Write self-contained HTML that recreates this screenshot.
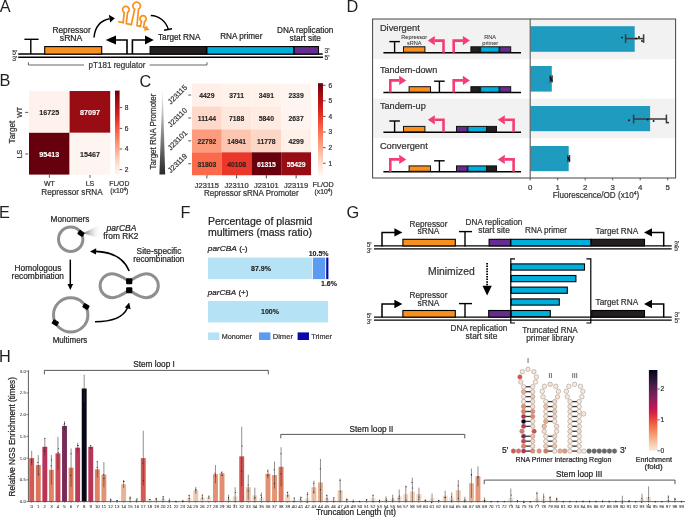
<!DOCTYPE html>
<html><head><meta charset="utf-8"><style>
html,body{margin:0;padding:0;background:#fff;}
svg{display:block;font-family:"Liberation Sans",sans-serif;will-change:transform;-webkit-font-smoothing:antialiased;}
text{stroke:currentColor;stroke-width:0.22px;}
</style></head><body>
<svg width="685" height="517" viewBox="0 0 685 517">
<rect x="0" y="0" width="685" height="517" fill="#fff"/>
<text x="-0.30" y="11.90" font-size="16.3" text-anchor="start" font-weight="normal" font-style="normal" fill="#231F20" color="#231F20" style="stroke-width:0">A</text>
<text x="346.60" y="12.10" font-size="16.3" text-anchor="start" font-weight="normal" font-style="normal" fill="#231F20" color="#231F20" style="stroke-width:0">D</text>
<text x="-0.50" y="85.90" font-size="16.3" text-anchor="start" font-weight="normal" font-style="normal" fill="#231F20" color="#231F20" style="stroke-width:0">B</text>
<text x="139.60" y="86.80" font-size="16.3" text-anchor="start" font-weight="normal" font-style="normal" fill="#231F20" color="#231F20" style="stroke-width:0">C</text>
<text x="-0.90" y="218.10" font-size="16.3" text-anchor="start" font-weight="normal" font-style="normal" fill="#231F20" color="#231F20" style="stroke-width:0">E</text>
<text x="180.60" y="217.70" font-size="16.3" text-anchor="start" font-weight="normal" font-style="normal" fill="#231F20" color="#231F20" style="stroke-width:0">F</text>
<text x="346.60" y="218.00" font-size="16.3" text-anchor="start" font-weight="normal" font-style="normal" fill="#231F20" color="#231F20" style="stroke-width:0">G</text>
<text x="-0.90" y="362.20" font-size="16.3" text-anchor="start" font-weight="normal" font-style="normal" fill="#231F20" color="#231F20" style="stroke-width:0">H</text>
<line x1="18.20" y1="54.00" x2="322.70" y2="54.00" stroke="#000" stroke-width="1.4" />
<line x1="18.20" y1="57.20" x2="323.00" y2="57.20" stroke="#000" stroke-width="1.5" />
<text x="17.40" y="54.60" font-size="6.9" text-anchor="end" font-weight="normal" font-style="normal" fill="#444" color="#444" >5'</text>
<text x="17.40" y="60.90" font-size="6.9" text-anchor="end" font-weight="normal" font-style="normal" fill="#444" color="#444" >3'</text>
<text x="324.60" y="52.90" font-size="6.6" text-anchor="start" font-weight="normal" font-style="normal" fill="#444" color="#444" >3'</text>
<text x="324.60" y="59.60" font-size="6.6" text-anchor="start" font-weight="normal" font-style="normal" fill="#444" color="#444" >5'</text>
<line x1="24.40" y1="39.30" x2="38.60" y2="39.30" stroke="#000" stroke-width="1.4" />
<line x1="30.80" y1="39.30" x2="30.80" y2="54.00" stroke="#000" stroke-width="1.4" />
<rect x="44.70" y="46.60" width="57.00" height="7.50" fill="#F7901E" stroke="#000" stroke-width="1.1" />
<rect x="150.10" y="46.60" width="56.40" height="7.50" fill="#231F20" stroke="#000" stroke-width="1.1" />
<rect x="206.90" y="46.60" width="86.90" height="7.50" fill="#00AEDB" stroke="#000" stroke-width="1.1" />
<rect x="294.20" y="46.60" width="24.30" height="7.50" fill="#662D91" stroke="#000" stroke-width="1.1" />
<path d="M127,54 L127,40 L115.5,40" stroke="#000" stroke-width="1.6" fill="none" />
<polygon points="105.60,40.00 116.00,35.60 116.00,44.40" fill="#000"/>
<path d="M132.4,54 L132.4,40 L145.5,40" stroke="#000" stroke-width="1.6" fill="none" />
<polygon points="153.80,40.00 145.00,35.60 145.00,44.40" fill="#000"/>
<text x="71.60" y="33.20" font-size="8.6" text-anchor="middle" font-weight="normal" font-style="normal" fill="#231F20" color="#231F20"  textLength="38.37" lengthAdjust="spacingAndGlyphs">Repressor</text>
<text x="71.10" y="41.20" font-size="8.6" text-anchor="middle" font-weight="normal" font-style="normal" fill="#231F20" color="#231F20"  textLength="22.57" lengthAdjust="spacingAndGlyphs">sRNA</text>
<text x="179.20" y="40.00" font-size="8.6" text-anchor="middle" font-weight="normal" font-style="normal" fill="#231F20" color="#231F20"  textLength="42.37" lengthAdjust="spacingAndGlyphs">Target RNA</text>
<text x="241.30" y="39.20" font-size="8.6" text-anchor="middle" font-weight="normal" font-style="normal" fill="#231F20" color="#231F20"  textLength="42.17" lengthAdjust="spacingAndGlyphs">RNA primer</text>
<text x="305.20" y="33.00" font-size="8.6" text-anchor="middle" font-weight="normal" font-style="normal" fill="#231F20" color="#231F20"  textLength="56.37" lengthAdjust="spacingAndGlyphs">DNA replication</text>
<text x="305.30" y="40.60" font-size="8.6" text-anchor="middle" font-weight="normal" font-style="normal" fill="#231F20" color="#231F20"  textLength="31.37" lengthAdjust="spacingAndGlyphs">start site</text>
<path d="M28.4,62.2 L28.4,65 L84,65" stroke="#555" stroke-width="0.9" fill="none" />
<path d="M149.5,65 L207,65 L207,62.2" stroke="#555" stroke-width="0.9" fill="none" />
<text x="117.00" y="67.60" font-size="8.6" text-anchor="middle" font-weight="normal" font-style="normal" fill="#333" color="#333"  textLength="56.77" lengthAdjust="spacingAndGlyphs">pT181 regulator</text>
<path d="M94,37.5 C95,27 101,20.5 109.5,18.8" stroke="#000" stroke-width="1.5" fill="none" />
<polygon points="114.80,18.20 108.80,14.80 110.20,22.60" fill="#000"/>
<path d="M150.8,15.6 C159,16 166,21 168.2,29.2" stroke="#000" stroke-width="1.5" fill="none" />
<line x1="164.00" y1="30.20" x2="172.00" y2="28.80" stroke="#000" stroke-width="1.5" />
<path d="M118.2,21.6 L123.1,22.7 L124.25,12.46 A3.3,3.3 0 1 1 127.55,12.46 L126.3,23.5 L131.3,24.7 L134.70,9.29 A3.8,3.8 0 1 1 138.50,9.29 L137.0,25.6 L140.3,26.4 L141.55,21.38 A3.1,3.1 0 1 1 144.65,21.38 L143.5,27.3 L146.0,28.3" stroke="#F7901E" stroke-width="1.7" fill="none" stroke-linejoin="miter"/>
<polygon points="149.60,30.00 143.80,30.80 145.90,25.60" fill="#F7901E"/>
<rect x="29.00" y="91.00" width="40.60" height="41.80" fill="#fff2ec" />
<text x="49.30" y="115.10" font-size="7.2" text-anchor="middle" font-weight="bold" font-style="normal" fill="#262626" color="#262626"  style="stroke-width:0.12px">16725</text>
<rect x="69.60" y="91.00" width="40.60" height="41.80" fill="#9a0c14" />
<text x="89.90" y="115.10" font-size="7.2" text-anchor="middle" font-weight="bold" font-style="normal" fill="#ffffff" color="#ffffff"  style="stroke-width:0.12px">87097</text>
<rect x="29.00" y="132.80" width="40.60" height="41.80" fill="#67000d" />
<text x="49.30" y="156.90" font-size="7.2" text-anchor="middle" font-weight="bold" font-style="normal" fill="#ffffff" color="#ffffff"  style="stroke-width:0.12px">95413</text>
<rect x="69.60" y="132.80" width="40.60" height="41.80" fill="#fff5f0" />
<text x="89.90" y="156.90" font-size="7.2" text-anchor="middle" font-weight="bold" font-style="normal" fill="#262626" color="#262626"  style="stroke-width:0.12px">15467</text>
<defs><linearGradient id="gB" x1="0" y1="1" x2="0" y2="0"><stop offset="0.00" stop-color="#fff5f0"/><stop offset="0.10" stop-color="#fee5d8"/><stop offset="0.20" stop-color="#fdcab5"/><stop offset="0.30" stop-color="#fcab8f"/><stop offset="0.40" stop-color="#fc8a6a"/><stop offset="0.50" stop-color="#fb694a"/><stop offset="0.60" stop-color="#f14432"/><stop offset="0.70" stop-color="#d92523"/><stop offset="0.80" stop-color="#bc141a"/><stop offset="0.90" stop-color="#980c13"/><stop offset="1.00" stop-color="#67000d"/></linearGradient></defs>
<rect x="115.00" y="90.60" width="4.60" height="83.80" fill="url(#gB)" />
<line x1="119.60" y1="107.60" x2="122.20" y2="107.60" stroke="#333" stroke-width="0.8" />
<text x="124.80" y="110.00" font-size="6.6" text-anchor="start" font-weight="normal" font-style="normal" fill="#333" color="#333" >8</text>
<line x1="119.60" y1="128.40" x2="122.20" y2="128.40" stroke="#333" stroke-width="0.8" />
<text x="124.80" y="130.80" font-size="6.6" text-anchor="start" font-weight="normal" font-style="normal" fill="#333" color="#333" >6</text>
<line x1="119.60" y1="149.00" x2="122.20" y2="149.00" stroke="#333" stroke-width="0.8" />
<text x="124.80" y="151.40" font-size="6.6" text-anchor="start" font-weight="normal" font-style="normal" fill="#333" color="#333" >4</text>
<line x1="119.60" y1="169.60" x2="122.20" y2="169.60" stroke="#333" stroke-width="0.8" />
<text x="124.80" y="172.00" font-size="6.6" text-anchor="start" font-weight="normal" font-style="normal" fill="#333" color="#333" >2</text>
<line x1="25.20" y1="112.40" x2="28.20" y2="112.40" stroke="#333" stroke-width="0.8" />
<text x="22.00" y="112.40" font-size="7" text-anchor="middle" font-weight="normal" font-style="normal" fill="#333" color="#333" transform="rotate(-90 22 112.4)">WT</text>
<line x1="25.20" y1="154.00" x2="28.20" y2="154.00" stroke="#333" stroke-width="0.8" />
<text x="22.00" y="154.00" font-size="7" text-anchor="middle" font-weight="normal" font-style="normal" fill="#333" color="#333" transform="rotate(-90 22 154.0)">LS</text>
<text x="15.00" y="132.00" font-size="8.3" text-anchor="middle" font-weight="normal" font-style="normal" fill="#333" color="#333" transform="rotate(-90 15 132)" textLength="22.75" lengthAdjust="spacingAndGlyphs">Target</text>
<line x1="49.40" y1="175.00" x2="49.40" y2="177.80" stroke="#333" stroke-width="0.8" />
<text x="49.40" y="185.60" font-size="7" text-anchor="middle" font-weight="normal" font-style="normal" fill="#333" color="#333" >WT</text>
<line x1="90.00" y1="175.00" x2="90.00" y2="177.80" stroke="#333" stroke-width="0.8" />
<text x="90.00" y="185.60" font-size="7" text-anchor="middle" font-weight="normal" font-style="normal" fill="#333" color="#333" >LS</text>
<text x="72.00" y="195.20" font-size="8.5" text-anchor="middle" font-weight="normal" font-style="normal" fill="#333" color="#333"  textLength="61.56" lengthAdjust="spacingAndGlyphs">Repressor sRNA</text>
<text x="119.30" y="185.60" font-size="6.8" text-anchor="middle" font-weight="normal" font-style="normal" fill="#333" color="#333" >FL/OD</text>
<text x="119.30" y="192.80" font-size="6.8" text-anchor="middle" font-weight="normal" font-style="normal" fill="#333" color="#333" >(x10<tspan font-size="4.5" dy="-2.2">4</tspan><tspan dy="2.2">)</tspan></text>
<rect x="192.00" y="83.60" width="29.80" height="22.95" fill="#ffefe8" />
<text x="206.88" y="98.15" font-size="6.8" text-anchor="middle" font-weight="bold" font-style="normal" fill="#262626" color="#262626"  style="stroke-width:0.12px">4429</text>
<rect x="221.75" y="83.60" width="29.80" height="22.95" fill="#fff2eb" />
<text x="236.62" y="98.15" font-size="6.8" text-anchor="middle" font-weight="bold" font-style="normal" fill="#262626" color="#262626"  style="stroke-width:0.12px">3711</text>
<rect x="251.50" y="83.60" width="29.80" height="22.95" fill="#fff2eb" />
<text x="266.38" y="98.15" font-size="6.8" text-anchor="middle" font-weight="bold" font-style="normal" fill="#262626" color="#262626"  style="stroke-width:0.12px">3491</text>
<rect x="281.25" y="83.60" width="29.80" height="22.95" fill="#fff5f0" />
<text x="296.12" y="98.15" font-size="6.8" text-anchor="middle" font-weight="bold" font-style="normal" fill="#262626" color="#262626"  style="stroke-width:0.12px">2339</text>
<rect x="192.00" y="106.50" width="29.80" height="22.95" fill="#fed9c9" />
<text x="206.88" y="121.05" font-size="6.8" text-anchor="middle" font-weight="bold" font-style="normal" fill="#262626" color="#262626"  style="stroke-width:0.12px">11144</text>
<rect x="221.75" y="106.50" width="29.80" height="22.95" fill="#fee7dc" />
<text x="236.62" y="121.05" font-size="6.8" text-anchor="middle" font-weight="bold" font-style="normal" fill="#262626" color="#262626"  style="stroke-width:0.12px">7188</text>
<rect x="251.50" y="106.50" width="29.80" height="22.95" fill="#ffebe2" />
<text x="266.38" y="121.05" font-size="6.8" text-anchor="middle" font-weight="bold" font-style="normal" fill="#262626" color="#262626"  style="stroke-width:0.12px">5840</text>
<rect x="281.25" y="106.50" width="29.80" height="22.95" fill="#fff4ef" />
<text x="296.12" y="121.05" font-size="6.8" text-anchor="middle" font-weight="bold" font-style="normal" fill="#262626" color="#262626"  style="stroke-width:0.12px">2637</text>
<rect x="192.00" y="129.40" width="29.80" height="22.95" fill="#fc9c7d" />
<text x="206.88" y="143.95" font-size="6.8" text-anchor="middle" font-weight="bold" font-style="normal" fill="#262626" color="#262626"  style="stroke-width:0.12px">22792</text>
<rect x="221.75" y="129.40" width="29.80" height="22.95" fill="#fdc6b0" />
<text x="236.62" y="143.95" font-size="6.8" text-anchor="middle" font-weight="bold" font-style="normal" fill="#262626" color="#262626"  style="stroke-width:0.12px">14941</text>
<rect x="251.50" y="129.40" width="29.80" height="22.95" fill="#fdd7c6" />
<text x="266.38" y="143.95" font-size="6.8" text-anchor="middle" font-weight="bold" font-style="normal" fill="#262626" color="#262626"  style="stroke-width:0.12px">11778</text>
<rect x="281.25" y="129.40" width="29.80" height="22.95" fill="#fff0e8" />
<text x="296.12" y="143.95" font-size="6.8" text-anchor="middle" font-weight="bold" font-style="normal" fill="#262626" color="#262626"  style="stroke-width:0.12px">4299</text>
<rect x="192.00" y="152.30" width="29.80" height="22.95" fill="#fb6b4b" />
<text x="206.88" y="166.85" font-size="6.8" text-anchor="middle" font-weight="bold" font-style="normal" fill="#262626" color="#262626"  style="stroke-width:0.12px">31803</text>
<rect x="221.75" y="152.30" width="29.80" height="22.95" fill="#eb372a" />
<text x="236.62" y="166.85" font-size="6.8" text-anchor="middle" font-weight="bold" font-style="normal" fill="#262626" color="#262626"  style="stroke-width:0.12px">40108</text>
<rect x="251.50" y="152.30" width="29.80" height="22.95" fill="#67000d" />
<text x="266.38" y="166.85" font-size="6.8" text-anchor="middle" font-weight="bold" font-style="normal" fill="#ffffff" color="#ffffff"  style="stroke-width:0.12px">61315</text>
<rect x="281.25" y="152.30" width="29.80" height="22.95" fill="#980c13" />
<text x="296.12" y="166.85" font-size="6.8" text-anchor="middle" font-weight="bold" font-style="normal" fill="#ffffff" color="#ffffff"  style="stroke-width:0.12px">55429</text>
<rect x="318.00" y="83.20" width="5.00" height="92.00" fill="url(#gB)" />
<line x1="323.00" y1="163.25" x2="325.60" y2="163.25" stroke="#333" stroke-width="0.8" />
<text x="328.60" y="165.65" font-size="6.6" text-anchor="start" font-weight="normal" font-style="normal" fill="#333" color="#333" >1</text>
<line x1="323.00" y1="147.65" x2="325.60" y2="147.65" stroke="#333" stroke-width="0.8" />
<text x="328.60" y="150.05" font-size="6.6" text-anchor="start" font-weight="normal" font-style="normal" fill="#333" color="#333" >2</text>
<line x1="323.00" y1="132.05" x2="325.60" y2="132.05" stroke="#333" stroke-width="0.8" />
<text x="328.60" y="134.45" font-size="6.6" text-anchor="start" font-weight="normal" font-style="normal" fill="#333" color="#333" >3</text>
<line x1="323.00" y1="116.45" x2="325.60" y2="116.45" stroke="#333" stroke-width="0.8" />
<text x="328.60" y="118.85" font-size="6.6" text-anchor="start" font-weight="normal" font-style="normal" fill="#333" color="#333" >4</text>
<line x1="323.00" y1="100.85" x2="325.60" y2="100.85" stroke="#333" stroke-width="0.8" />
<text x="328.60" y="103.25" font-size="6.6" text-anchor="start" font-weight="normal" font-style="normal" fill="#333" color="#333" >5</text>
<line x1="323.00" y1="85.25" x2="325.60" y2="85.25" stroke="#333" stroke-width="0.8" />
<text x="328.60" y="87.65" font-size="6.6" text-anchor="start" font-weight="normal" font-style="normal" fill="#333" color="#333" >6</text>
<line x1="188.20" y1="95.05" x2="191.20" y2="95.05" stroke="#333" stroke-width="0.8" />
<text x="0" y="2.6" font-size="7.4" text-anchor="middle" fill="#333" color="#333" transform="translate(177.4 94.45) rotate(-45)">J23115</text>
<line x1="206.88" y1="175.20" x2="206.88" y2="178.40" stroke="#333" stroke-width="0.9" />
<text x="206.88" y="188.00" font-size="7.5" text-anchor="middle" font-weight="normal" font-style="normal" fill="#333" color="#333" >J23115</text>
<line x1="188.20" y1="117.95" x2="191.20" y2="117.95" stroke="#333" stroke-width="0.8" />
<text x="0" y="2.6" font-size="7.4" text-anchor="middle" fill="#333" color="#333" transform="translate(177.4 117.35000000000001) rotate(-45)">J23110</text>
<line x1="236.62" y1="175.20" x2="236.62" y2="178.40" stroke="#333" stroke-width="0.9" />
<text x="236.62" y="188.00" font-size="7.5" text-anchor="middle" font-weight="normal" font-style="normal" fill="#333" color="#333" >J23110</text>
<line x1="188.20" y1="140.85" x2="191.20" y2="140.85" stroke="#333" stroke-width="0.8" />
<text x="0" y="2.6" font-size="7.4" text-anchor="middle" fill="#333" color="#333" transform="translate(177.4 140.25000000000003) rotate(-45)">J23101</text>
<line x1="266.38" y1="175.20" x2="266.38" y2="178.40" stroke="#333" stroke-width="0.9" />
<text x="266.38" y="188.00" font-size="7.5" text-anchor="middle" font-weight="normal" font-style="normal" fill="#333" color="#333" >J23101</text>
<line x1="188.20" y1="163.75" x2="191.20" y2="163.75" stroke="#333" stroke-width="0.8" />
<text x="0" y="2.6" font-size="7.4" text-anchor="middle" fill="#333" color="#333" transform="translate(177.4 163.15) rotate(-45)">J23119</text>
<line x1="296.12" y1="175.20" x2="296.12" y2="178.40" stroke="#333" stroke-width="0.9" />
<text x="296.12" y="188.00" font-size="7.5" text-anchor="middle" font-weight="normal" font-style="normal" fill="#333" color="#333" >J23119</text>
<defs><linearGradient id="gW" x1="0" y1="0" x2="0" y2="1"><stop offset="0" stop-color="#ffffff"/><stop offset="1" stop-color="#2a2a2a"/></linearGradient></defs>
<polygon points="162.60,85.60 165.20,174.40 159.40,174.40" fill="url(#gW)"/>
<text x="155.60" y="131.50" font-size="8.3" text-anchor="middle" font-weight="normal" font-style="normal" fill="#333" color="#333" transform="rotate(-90 155.6 131.5)" textLength="75.75" lengthAdjust="spacingAndGlyphs">Target RNA Promoter</text>
<text x="251.30" y="196.40" font-size="8.5" text-anchor="middle" font-weight="normal" font-style="normal" fill="#333" color="#333"  textLength="94.77" lengthAdjust="spacingAndGlyphs">Repressor sRNA Promoter</text>
<text x="323.20" y="186.90" font-size="7.2" text-anchor="middle" font-weight="normal" font-style="normal" fill="#333" color="#333" >FL/OD</text>
<text x="323.50" y="193.90" font-size="6.8" text-anchor="middle" font-weight="normal" font-style="normal" fill="#333" color="#333" >(x10<tspan font-size="4.5" dy="-2.2">4</tspan><tspan dy="2.2">)</tspan></text>
<rect x="372.60" y="19.00" width="303.00" height="40.00" fill="#F2F2F2" />
<rect x="372.60" y="59.00" width="303.00" height="39.60" fill="#FFFFFF" />
<rect x="372.60" y="98.60" width="303.00" height="39.70" fill="#F2F2F2" />
<rect x="372.60" y="138.30" width="303.00" height="39.70" fill="#FFFFFF" />
<rect x="530.20" y="26.20" width="104.50" height="25.60" fill="#1E9BBF" />
<rect x="530.20" y="66.00" width="21.59" height="25.60" fill="#1E9BBF" />
<rect x="530.20" y="106.00" width="119.90" height="25.20" fill="#1E9BBF" />
<rect x="530.20" y="146.00" width="38.50" height="25.20" fill="#1E9BBF" />
<line x1="625.60" y1="38.60" x2="643.60" y2="38.60" stroke="#3a3a3a" stroke-width="1.5" />
<line x1="625.60" y1="34.30" x2="625.60" y2="42.90" stroke="#3a3a3a" stroke-width="1.5" />
<line x1="643.60" y1="34.30" x2="643.60" y2="42.90" stroke="#3a3a3a" stroke-width="1.5" />
<circle cx="622.00" cy="37.60" r="0.95" fill="#111"/>
<circle cx="639.00" cy="37.00" r="0.95" fill="#111"/>
<circle cx="642.00" cy="41.00" r="0.95" fill="#111"/>
<circle cx="636.00" cy="38.50" r="0.95" fill="#111"/>
<line x1="550.20" y1="78.80" x2="552.20" y2="78.80" stroke="#3a3a3a" stroke-width="1.3" />
<line x1="550.20" y1="75.20" x2="550.20" y2="82.40" stroke="#3a3a3a" stroke-width="1.3" />
<line x1="552.20" y1="75.20" x2="552.20" y2="82.40" stroke="#3a3a3a" stroke-width="1.3" />
<circle cx="550.60" cy="77.40" r="0.95" fill="#111"/>
<circle cx="551.60" cy="80.40" r="0.95" fill="#111"/>
<circle cx="551.00" cy="79.00" r="0.95" fill="#111"/>
<line x1="633.60" y1="119.00" x2="666.40" y2="119.00" stroke="#3a3a3a" stroke-width="1.5" />
<line x1="633.60" y1="114.60" x2="633.60" y2="123.40" stroke="#3a3a3a" stroke-width="1.5" />
<line x1="666.40" y1="114.60" x2="666.40" y2="123.40" stroke="#3a3a3a" stroke-width="1.5" />
<circle cx="629.00" cy="120.20" r="0.95" fill="#111"/>
<circle cx="647.60" cy="119.60" r="0.95" fill="#111"/>
<circle cx="653.60" cy="121.00" r="0.95" fill="#111"/>
<circle cx="668.00" cy="122.60" r="0.95" fill="#111"/>
<line x1="567.80" y1="158.60" x2="569.60" y2="158.60" stroke="#3a3a3a" stroke-width="1.3" />
<line x1="567.80" y1="155.00" x2="567.80" y2="162.20" stroke="#3a3a3a" stroke-width="1.3" />
<line x1="569.60" y1="155.00" x2="569.60" y2="162.20" stroke="#3a3a3a" stroke-width="1.3" />
<circle cx="568.20" cy="157.60" r="0.95" fill="#111"/>
<circle cx="569.20" cy="160.00" r="0.95" fill="#111"/>
<circle cx="568.60" cy="158.80" r="0.95" fill="#111"/>
<rect x="372.60" y="19.00" width="303.00" height="159.00" fill="none" stroke="#444" stroke-width="1.0" />
<line x1="530.20" y1="19.00" x2="530.20" y2="178.00" stroke="#666" stroke-width="1.2" />
<line x1="530.20" y1="178.00" x2="530.20" y2="180.40" stroke="#333" stroke-width="0.8" />
<text x="530.20" y="189.80" font-size="7.9" text-anchor="middle" font-weight="normal" font-style="normal" fill="#333" color="#333" >0</text>
<line x1="557.70" y1="178.00" x2="557.70" y2="180.40" stroke="#333" stroke-width="0.8" />
<text x="557.70" y="189.80" font-size="7.9" text-anchor="middle" font-weight="normal" font-style="normal" fill="#333" color="#333" >1</text>
<line x1="585.20" y1="178.00" x2="585.20" y2="180.40" stroke="#333" stroke-width="0.8" />
<text x="585.20" y="189.80" font-size="7.9" text-anchor="middle" font-weight="normal" font-style="normal" fill="#333" color="#333" >2</text>
<line x1="612.70" y1="178.00" x2="612.70" y2="180.40" stroke="#333" stroke-width="0.8" />
<text x="612.70" y="189.80" font-size="7.9" text-anchor="middle" font-weight="normal" font-style="normal" fill="#333" color="#333" >3</text>
<line x1="640.20" y1="178.00" x2="640.20" y2="180.40" stroke="#333" stroke-width="0.8" />
<text x="640.20" y="189.80" font-size="7.9" text-anchor="middle" font-weight="normal" font-style="normal" fill="#333" color="#333" >4</text>
<line x1="667.70" y1="178.00" x2="667.70" y2="180.40" stroke="#333" stroke-width="0.8" />
<text x="667.70" y="189.80" font-size="7.9" text-anchor="middle" font-weight="normal" font-style="normal" fill="#333" color="#333" >5</text>
<text x="596.00" y="198.00" font-size="8.4" text-anchor="middle" font-weight="normal" font-style="normal" fill="#333" color="#333"  textLength="86.36" lengthAdjust="spacingAndGlyphs">Fluorescence/OD (x10<tspan font-size="5.2" dy="-2.8">4</tspan><tspan dy="2.8">)</tspan></text>
<text x="379.90" y="30.80" font-size="9.3" text-anchor="start" font-weight="normal" font-style="normal" fill="#333" color="#333"  textLength="39.84" lengthAdjust="spacingAndGlyphs">Divergent</text>
<line x1="383.40" y1="52.70" x2="521.00" y2="52.70" stroke="#000" stroke-width="1.5" />
<text x="379.90" y="73.20" font-size="9.3" text-anchor="start" font-weight="normal" font-style="normal" fill="#333" color="#333"  textLength="57.34" lengthAdjust="spacingAndGlyphs">Tandem-down</text>
<line x1="383.40" y1="92.60" x2="521.00" y2="92.60" stroke="#000" stroke-width="1.5" />
<text x="379.90" y="109.40" font-size="9.3" text-anchor="start" font-weight="normal" font-style="normal" fill="#333" color="#333"  textLength="45.84" lengthAdjust="spacingAndGlyphs">Tandem-up</text>
<line x1="383.40" y1="132.30" x2="521.00" y2="132.30" stroke="#000" stroke-width="1.5" />
<text x="379.90" y="149.40" font-size="9.3" text-anchor="start" font-weight="normal" font-style="normal" fill="#333" color="#333"  textLength="47.84" lengthAdjust="spacingAndGlyphs">Convergent</text>
<line x1="383.40" y1="171.80" x2="521.00" y2="171.80" stroke="#000" stroke-width="1.5" />
<line x1="389.30" y1="41.60" x2="399.90" y2="41.60" stroke="#000" stroke-width="1.4" />
<line x1="394.60" y1="41.60" x2="394.60" y2="52.70" stroke="#000" stroke-width="1.4" />
<rect x="403.50" y="46.80" width="21.40" height="5.40" fill="#F7901E" stroke="#111" stroke-width="1.0" />
<path d="M443.5,52.7 L443.5,40.6 L434.8,40.6" stroke="#F53D74" stroke-width="2.6" fill="none" stroke-linejoin="miter"/>
<polygon points="427.80,40.60 434.80,36.00 434.80,45.20" fill="#F53D74"/>
<path d="M453.7,52.7 L453.7,40.6 L462.9,40.6" stroke="#F53D74" stroke-width="2.6" fill="none" stroke-linejoin="miter"/>
<polygon points="469.90,40.60 462.90,36.00 462.90,45.20" fill="#F53D74"/>
<rect x="470.90" y="46.80" width="9.20" height="5.40" fill="#231F20" stroke="#111" stroke-width="1.0" />
<rect x="480.70" y="46.80" width="18.40" height="5.40" fill="#00AEDB" stroke="#111" stroke-width="1.0" />
<rect x="499.70" y="46.80" width="11.00" height="5.40" fill="#662D91" stroke="#111" stroke-width="1.0" />
<text x="414.20" y="39.00" font-size="5.6" text-anchor="middle" font-weight="normal" font-style="normal" fill="#333" color="#333"  style="stroke-width:0.06px">Repressor</text>
<text x="414.20" y="45.00" font-size="5.6" text-anchor="middle" font-weight="normal" font-style="normal" fill="#333" color="#333"  style="stroke-width:0.06px">sRNA</text>
<text x="490.20" y="38.80" font-size="5.6" text-anchor="middle" font-weight="normal" font-style="normal" fill="#333" color="#333"  style="stroke-width:0.06px">RNA</text>
<text x="490.20" y="44.80" font-size="5.6" text-anchor="middle" font-weight="normal" font-style="normal" fill="#333" color="#333"  style="stroke-width:0.06px">primer</text>
<path d="M390.3,92.6 L390.3,80.4 L399.2,80.4" stroke="#F53D74" stroke-width="2.6" fill="none" stroke-linejoin="miter"/>
<polygon points="406.20,80.40 399.20,75.80 399.20,85.00" fill="#F53D74"/>
<rect x="409.10" y="86.70" width="21.40" height="5.40" fill="#F7901E" stroke="#111" stroke-width="1.0" />
<line x1="434.10" y1="81.20" x2="444.70" y2="81.20" stroke="#000" stroke-width="1.4" />
<line x1="439.40" y1="81.20" x2="439.40" y2="92.60" stroke="#000" stroke-width="1.4" />
<path d="M453.7,92.6 L453.7,80.4 L462.9,80.4" stroke="#F53D74" stroke-width="2.6" fill="none" stroke-linejoin="miter"/>
<polygon points="469.90,80.40 462.90,75.80 462.90,85.00" fill="#F53D74"/>
<rect x="470.90" y="86.70" width="9.20" height="5.40" fill="#231F20" stroke="#111" stroke-width="1.0" />
<rect x="480.70" y="86.70" width="18.40" height="5.40" fill="#00AEDB" stroke="#111" stroke-width="1.0" />
<rect x="499.70" y="86.70" width="11.00" height="5.40" fill="#662D91" stroke="#111" stroke-width="1.0" />
<line x1="389.30" y1="121.00" x2="399.90" y2="121.00" stroke="#000" stroke-width="1.4" />
<line x1="394.60" y1="121.00" x2="394.60" y2="132.30" stroke="#000" stroke-width="1.4" />
<rect x="403.50" y="126.40" width="21.40" height="5.40" fill="#F7901E" stroke="#111" stroke-width="1.0" />
<path d="M443.5,132.3 L443.5,119.8 L434.8,119.8" stroke="#F53D74" stroke-width="2.6" fill="none" stroke-linejoin="miter"/>
<polygon points="427.80,119.80 434.80,115.20 434.80,124.40" fill="#F53D74"/>
<rect x="456.50" y="126.40" width="10.80" height="5.40" fill="#662D91" stroke="#111" stroke-width="1.0" />
<rect x="467.90" y="126.40" width="18.60" height="5.40" fill="#00AEDB" stroke="#111" stroke-width="1.0" />
<rect x="487.10" y="126.40" width="9.40" height="5.40" fill="#231F20" stroke="#111" stroke-width="1.0" />
<path d="M513.6,132.3 L513.6,119.8 L504.8,119.8" stroke="#F53D74" stroke-width="2.6" fill="none" stroke-linejoin="miter"/>
<polygon points="497.80,119.80 504.80,115.20 504.80,124.40" fill="#F53D74"/>
<path d="M390.3,171.8 L390.3,159.4 L399.2,159.4" stroke="#F53D74" stroke-width="2.6" fill="none" stroke-linejoin="miter"/>
<polygon points="406.20,159.40 399.20,154.80 399.20,164.00" fill="#F53D74"/>
<rect x="409.10" y="165.90" width="21.40" height="5.40" fill="#F7901E" stroke="#111" stroke-width="1.0" />
<line x1="434.10" y1="160.80" x2="444.70" y2="160.80" stroke="#000" stroke-width="1.4" />
<line x1="439.40" y1="160.80" x2="439.40" y2="171.80" stroke="#000" stroke-width="1.4" />
<rect x="456.50" y="165.90" width="10.80" height="5.40" fill="#662D91" stroke="#111" stroke-width="1.0" />
<rect x="467.90" y="165.90" width="18.60" height="5.40" fill="#00AEDB" stroke="#111" stroke-width="1.0" />
<rect x="487.10" y="165.90" width="9.40" height="5.40" fill="#231F20" stroke="#111" stroke-width="1.0" />
<path d="M513.6,171.8 L513.6,159.4 L504.8,159.4" stroke="#F53D74" stroke-width="2.6" fill="none" stroke-linejoin="miter"/>
<polygon points="497.80,159.40 504.80,154.80 504.80,164.00" fill="#F53D74"/>
<defs><linearGradient id="gT" x1="0" y1="0" x2="1" y2="0"><stop offset="0" stop-color="#707070"/><stop offset="1" stop-color="#fff" stop-opacity="0"/></linearGradient></defs>
<polygon points="83.00,233.20 101.00,224.20 101.00,238.80" fill="url(#gT)"/>
<circle cx="70.7" cy="239.2" r="12.2" fill="none" stroke="#8f8f8f" stroke-width="3.0"/>
<rect x="-2.5" y="-3.1" width="5.0" height="6.2" fill="#000" rx="0.9" transform="translate(81.0 233.4) rotate(-58)"/>
<text x="70.00" y="221.70" font-size="8.4" text-anchor="middle" font-weight="normal" font-style="normal" fill="#231F20" color="#231F20"  textLength="38.76" lengthAdjust="spacingAndGlyphs">Monomers</text>
<text x="121.50" y="231.00" font-size="8.4" text-anchor="middle" font-weight="normal" font-style="italic" fill="#231F20" color="#231F20"  textLength="29.76" lengthAdjust="spacingAndGlyphs">parCBA</text>
<text x="120.80" y="238.80" font-size="8.4" text-anchor="middle" font-weight="normal" font-style="normal" fill="#231F20" color="#231F20"  textLength="35.16" lengthAdjust="spacingAndGlyphs">from RK2</text>
<line x1="70.30" y1="259.60" x2="70.30" y2="285.00" stroke="#000" stroke-width="1.5" />
<polygon points="70.30,290.00 67.50,284.00 73.10,284.00" fill="#000"/>
<text x="38.00" y="270.60" font-size="8.4" text-anchor="middle" font-weight="normal" font-style="normal" fill="#231F20" color="#231F20"  textLength="46.76" lengthAdjust="spacingAndGlyphs">Homologous</text>
<text x="37.80" y="278.90" font-size="8.4" text-anchor="middle" font-weight="normal" font-style="normal" fill="#231F20" color="#231F20"  textLength="52.36" lengthAdjust="spacingAndGlyphs">recombination</text>
<circle cx="70.7" cy="314.9" r="17.2" fill="none" stroke="#8f8f8f" stroke-width="3.0"/>
<rect x="-2.5" y="-3.1" width="5.0" height="6.2" fill="#000" rx="0.9" transform="translate(86.0 306.5) rotate(-60)"/>
<rect x="-2.5" y="-3.1" width="5.0" height="6.2" fill="#000" rx="0.9" transform="translate(55.3 322.8) rotate(-60)"/>
<text x="70.00" y="343.00" font-size="8.4" text-anchor="middle" font-weight="normal" font-style="normal" fill="#231F20" color="#231F20"  textLength="34.56" lengthAdjust="spacingAndGlyphs">Multimers</text>
<path d="M129.2,281.5 C124.5,278.3 118.5,273.7 112.1,273.7 A12,12 0 0 0 112.1,297.7 C118.5,297.7 124.5,293.3 129.2,290.1 C133.9,293.3 139.9,297.7 146.3,297.7 A12,12 0 0 0 146.3,273.7 C139.9,273.7 133.9,278.3 129.2,281.5 Z" stroke="#8f8f8f" stroke-width="3.0" fill="none" />
<rect x="126.1" y="278.2" width="6.2" height="6.0" rx="1" fill="#000"/>
<rect x="126.1" y="287.3" width="6.2" height="6.0" rx="1" fill="#000"/>
<path d="M95,321.7 C110,321.7 123,318 127.4,308" stroke="#000" stroke-width="1.6" fill="none" />
<polygon points="129.20,302.40 124.80,307.60 130.60,309.20" fill="#000"/>
<path d="M129.2,271 C124,258 112,252 95.5,251.4" stroke="#000" stroke-width="1.6" fill="none" />
<polygon points="90.00,251.40 96.20,248.20 96.00,254.60" fill="#000"/>
<text x="159.00" y="254.40" font-size="8.4" text-anchor="middle" font-weight="normal" font-style="normal" fill="#231F20" color="#231F20"  textLength="44.76" lengthAdjust="spacingAndGlyphs">Site-specific</text>
<text x="158.80" y="262.20" font-size="8.4" text-anchor="middle" font-weight="normal" font-style="normal" fill="#231F20" color="#231F20"  textLength="51.16" lengthAdjust="spacingAndGlyphs">recombination</text>
<text x="207.90" y="225.20" font-size="10.6" text-anchor="start" font-weight="normal" font-style="normal" fill="#231F20" color="#231F20"  textLength="104.55" lengthAdjust="spacingAndGlyphs">Percentage of plasmid</text>
<text x="207.90" y="236.00" font-size="10.6" text-anchor="start" font-weight="normal" font-style="normal" fill="#231F20" color="#231F20"  textLength="104.15" lengthAdjust="spacingAndGlyphs">multimers (mass ratio)</text>
<text x="207.80" y="251.20" font-size="8.0" text-anchor="start" font-weight="normal" font-style="normal" fill="#231F20" color="#231F20"  textLength="39.72" lengthAdjust="spacingAndGlyphs"><tspan font-style="italic">parCBA</tspan> (-)</text>
<text x="207.80" y="295.20" font-size="8.0" text-anchor="start" font-weight="normal" font-style="normal" fill="#231F20" color="#231F20"  textLength="40.72" lengthAdjust="spacingAndGlyphs"><tspan font-style="italic">parCBA</tspan> (+)</text>
<rect x="208.00" y="257.60" width="104.20" height="21.50" fill="#B5E3F5" />
<rect x="312.90" y="257.60" width="12.30" height="21.50" fill="#5B9BF0" />
<rect x="326.20" y="257.60" width="2.20" height="21.50" fill="#0A0AAA" />
<rect x="208.00" y="301.00" width="120.00" height="21.40" fill="#B5E3F5" />
<text x="261.00" y="271.00" font-size="7" text-anchor="middle" font-weight="bold" font-style="normal" fill="#222" color="#222"  style="stroke-width:0.12px">87.9%</text>
<text x="270.00" y="313.60" font-size="7" text-anchor="middle" font-weight="bold" font-style="normal" fill="#222" color="#222"  style="stroke-width:0.12px">100%</text>
<text x="318.60" y="256.20" font-size="7" text-anchor="middle" font-weight="bold" font-style="normal" fill="#222" color="#222"  style="stroke-width:0.12px">10.5%</text>
<text x="329.00" y="285.90" font-size="7" text-anchor="middle" font-weight="bold" font-style="normal" fill="#222" color="#222"  style="stroke-width:0.12px">1.6%</text>
<rect x="208.00" y="332.40" width="11.40" height="7.60" fill="#B5E3F5" />
<text x="221.70" y="339.00" font-size="7.6" text-anchor="start" font-weight="normal" font-style="normal" fill="#333" color="#333"  textLength="30.28" lengthAdjust="spacingAndGlyphs">Monomer</text>
<rect x="259.00" y="332.40" width="11.40" height="7.60" fill="#5B9BF0" />
<text x="272.70" y="339.00" font-size="7.6" text-anchor="start" font-weight="normal" font-style="normal" fill="#333" color="#333"  textLength="20.28" lengthAdjust="spacingAndGlyphs">Dimer</text>
<rect x="297.60" y="332.40" width="11.40" height="7.60" fill="#0A0AAA" />
<text x="311.30" y="339.00" font-size="7.6" text-anchor="start" font-weight="normal" font-style="normal" fill="#333" color="#333"  textLength="20.68" lengthAdjust="spacingAndGlyphs">Trimer</text>
<line x1="374.00" y1="245.90" x2="671.70" y2="245.90" stroke="#000" stroke-width="1.3" />
<line x1="374.00" y1="248.85" x2="671.70" y2="248.85" stroke="#000" stroke-width="1.3" />
<line x1="374.00" y1="317.20" x2="671.70" y2="317.20" stroke="#000" stroke-width="1.3" />
<line x1="374.00" y1="320.10" x2="671.70" y2="320.10" stroke="#000" stroke-width="1.3" />
<path d="M382,246.4 L382,232.4 L395,232.4" stroke="#000" stroke-width="1.5" fill="none" />
<polygon points="402.40,232.40 394.40,228.20 394.40,236.60" fill="#000"/>
<rect x="402.90" y="239.30" width="52.40" height="6.60" fill="#F7901E" stroke="#000" stroke-width="1.1" />
<line x1="465.00" y1="231.60" x2="465.00" y2="246.40" stroke="#000" stroke-width="1.4" />
<line x1="459.00" y1="231.60" x2="472.00" y2="231.60" stroke="#000" stroke-width="1.4" />
<rect x="489.10" y="239.30" width="21.40" height="6.60" fill="#662D91" stroke="#000" stroke-width="1.1" />
<rect x="510.90" y="239.30" width="80.00" height="6.60" fill="#00AEDB" stroke="#000" stroke-width="1.1" />
<rect x="591.30" y="239.30" width="53.20" height="6.60" fill="#231F20" stroke="#000" stroke-width="1.1" />
<path d="M663.7,246.4 L663.7,232.4 L651.5,232.4" stroke="#000" stroke-width="1.5" fill="none" />
<polygon points="644.00,232.40 652.00,228.20 652.00,236.60" fill="#000"/>
<text x="428.50" y="226.80" font-size="8.4" text-anchor="middle" font-weight="normal" font-style="normal" fill="#333" color="#333"  textLength="37.76" lengthAdjust="spacingAndGlyphs">Repressor</text>
<text x="428.50" y="234.20" font-size="8.4" text-anchor="middle" font-weight="normal" font-style="normal" fill="#333" color="#333"  textLength="21.76" lengthAdjust="spacingAndGlyphs">sRNA</text>
<text x="494.00" y="224.80" font-size="8.4" text-anchor="middle" font-weight="normal" font-style="normal" fill="#333" color="#333"  textLength="56.76" lengthAdjust="spacingAndGlyphs">DNA replication</text>
<text x="494.00" y="232.80" font-size="8.4" text-anchor="middle" font-weight="normal" font-style="normal" fill="#333" color="#333"  textLength="31.56" lengthAdjust="spacingAndGlyphs">start site</text>
<text x="546.00" y="233.20" font-size="8.4" text-anchor="middle" font-weight="normal" font-style="normal" fill="#333" color="#333"  textLength="41.96" lengthAdjust="spacingAndGlyphs">RNA primer</text>
<text x="616.90" y="233.60" font-size="8.4" text-anchor="middle" font-weight="normal" font-style="normal" fill="#333" color="#333"  textLength="42.56" lengthAdjust="spacingAndGlyphs">Target RNA</text>
<path d="M382,317.6 L382,304 L395,304" stroke="#000" stroke-width="1.5" fill="none" />
<polygon points="402.40,304.00 394.40,299.80 394.40,308.20" fill="#000"/>
<rect x="402.90" y="310.50" width="52.40" height="6.60" fill="#F7901E" stroke="#000" stroke-width="1.1" />
<line x1="465.00" y1="303.60" x2="465.00" y2="317.60" stroke="#000" stroke-width="1.4" />
<line x1="459.00" y1="303.60" x2="472.00" y2="303.60" stroke="#000" stroke-width="1.4" />
<rect x="488.70" y="310.50" width="21.80" height="6.60" fill="#662D91" stroke="#000" stroke-width="1.1" />
<rect x="511.10" y="263.90" width="73.40" height="6.20" fill="#00AEDB" stroke="#000" stroke-width="1.1" />
<rect x="511.10" y="275.50" width="64.80" height="6.20" fill="#00AEDB" stroke="#000" stroke-width="1.1" />
<rect x="511.10" y="287.10" width="56.20" height="6.20" fill="#00AEDB" stroke="#000" stroke-width="1.1" />
<rect x="511.10" y="298.90" width="48.20" height="6.20" fill="#00AEDB" stroke="#000" stroke-width="1.1" />
<rect x="511.10" y="310.50" width="39.20" height="6.20" fill="#00AEDB" stroke="#000" stroke-width="1.1" />
<rect x="591.70" y="310.50" width="52.80" height="6.60" fill="#231F20" stroke="#000" stroke-width="1.1" />
<path d="M663.7,317.6 L663.7,304 L651.5,304" stroke="#000" stroke-width="1.5" fill="none" />
<polygon points="644.00,304.00 652.00,299.80 652.00,308.20" fill="#000"/>
<text x="428.50" y="298.20" font-size="8.4" text-anchor="middle" font-weight="normal" font-style="normal" fill="#333" color="#333"  textLength="37.76" lengthAdjust="spacingAndGlyphs">Repressor</text>
<text x="428.50" y="305.80" font-size="8.4" text-anchor="middle" font-weight="normal" font-style="normal" fill="#333" color="#333"  textLength="21.76" lengthAdjust="spacingAndGlyphs">sRNA</text>
<text x="616.90" y="305.20" font-size="8.4" text-anchor="middle" font-weight="normal" font-style="normal" fill="#333" color="#333"  textLength="42.56" lengthAdjust="spacingAndGlyphs">Target RNA</text>
<text x="479.00" y="331.40" font-size="8.4" text-anchor="middle" font-weight="normal" font-style="normal" fill="#333" color="#333"  textLength="56.76" lengthAdjust="spacingAndGlyphs">DNA replication</text>
<text x="481.50" y="339.20" font-size="8.4" text-anchor="middle" font-weight="normal" font-style="normal" fill="#333" color="#333"  textLength="31.76" lengthAdjust="spacingAndGlyphs">start site</text>
<text x="550.00" y="333.00" font-size="8.4" text-anchor="middle" font-weight="normal" font-style="normal" fill="#333" color="#333"  textLength="55.56" lengthAdjust="spacingAndGlyphs">Truncated RNA</text>
<text x="550.30" y="340.80" font-size="8.4" text-anchor="middle" font-weight="normal" font-style="normal" fill="#333" color="#333"  textLength="48.16" lengthAdjust="spacingAndGlyphs">primer library</text>
<path d="M515,258.8 L510.8,258.8 L510.8,323 L515,323" stroke="#000" stroke-width="1.2" fill="none" />
<path d="M586.4,258.8 L590.8,258.8 L590.8,323 L586.4,323" stroke="#000" stroke-width="1.2" fill="none" />
<line x1="487.10" y1="263.00" x2="487.10" y2="287.00" stroke="#000" stroke-width="1.8" stroke-dasharray="1.5 1.1"/>
<polygon points="487.10,295.40 482.50,285.80 491.80,285.80" fill="#000"/>
<text x="451.40" y="274.80" font-size="10.3" text-anchor="middle" font-weight="normal" font-style="normal" fill="#333" color="#333"  textLength="46.73" lengthAdjust="spacingAndGlyphs">Minimized</text>
<text x="366.70" y="246.90" font-size="6.6" text-anchor="start" font-weight="normal" font-style="normal" fill="#444" color="#444" >5'</text>
<text x="366.70" y="252.90" font-size="6.6" text-anchor="start" font-weight="normal" font-style="normal" fill="#444" color="#444" >3'</text>
<text x="366.70" y="317.80" font-size="6.6" text-anchor="start" font-weight="normal" font-style="normal" fill="#444" color="#444" >5'</text>
<text x="366.70" y="324.20" font-size="6.6" text-anchor="start" font-weight="normal" font-style="normal" fill="#444" color="#444" >3'</text>
<text x="674.20" y="245.60" font-size="6.6" text-anchor="start" font-weight="normal" font-style="normal" fill="#444" color="#444" >3'</text>
<text x="674.20" y="251.40" font-size="6.6" text-anchor="start" font-weight="normal" font-style="normal" fill="#444" color="#444" >5'</text>
<text x="674.60" y="317.20" font-size="6.6" text-anchor="start" font-weight="normal" font-style="normal" fill="#444" color="#444" >3'</text>
<text x="674.60" y="322.60" font-size="6.6" text-anchor="start" font-weight="normal" font-style="normal" fill="#444" color="#444" >5'</text>
<rect x="29.25" y="458.10" width="4.90" height="43.50" fill="#d55a53" />
<rect x="35.81" y="465.06" width="4.90" height="36.54" fill="#dc735b" />
<rect x="42.38" y="446.79" width="4.90" height="54.81" fill="#b93457" />
<rect x="48.94" y="469.85" width="4.90" height="31.75" fill="#e08468" />
<rect x="55.50" y="453.31" width="4.90" height="48.29" fill="#cb4854" />
<rect x="62.06" y="425.91" width="4.90" height="75.69" fill="#762b58" />
<rect x="68.63" y="467.67" width="4.90" height="33.93" fill="#de7d62" />
<rect x="75.19" y="447.66" width="4.90" height="53.94" fill="#bc3657" />
<rect x="81.75" y="388.50" width="4.90" height="113.10" fill="#060717" />
<rect x="88.32" y="446.79" width="4.90" height="54.81" fill="#b93457" />
<rect x="94.88" y="469.41" width="4.90" height="32.19" fill="#df8367" />
<rect x="101.44" y="474.63" width="4.90" height="26.97" fill="#e39375" />
<rect x="108.01" y="500.43" width="4.90" height="1.17" fill="#f6e8dd" />
<rect x="114.57" y="501.17" width="4.90" height="0.43" fill="#f7ebe0" />
<rect x="121.13" y="484.20" width="4.90" height="17.40" fill="#e8b497" />
<rect x="127.69" y="500.43" width="4.90" height="1.17" fill="#f6e8dd" />
<rect x="134.26" y="500.12" width="4.90" height="1.48" fill="#f5e7db" />
<rect x="140.82" y="458.10" width="4.90" height="43.50" fill="#d55a53" />
<rect x="147.38" y="499.69" width="4.90" height="1.91" fill="#f5e5d9" />
<rect x="153.95" y="499.43" width="4.90" height="2.18" fill="#f5e5d9" />
<rect x="160.51" y="499.12" width="4.90" height="2.48" fill="#f4e4d7" />
<rect x="167.07" y="500.86" width="4.90" height="0.74" fill="#f6eade" />
<rect x="173.64" y="501.38" width="4.90" height="0.22" fill="#f7ebe0" />
<rect x="180.20" y="500.73" width="4.90" height="0.87" fill="#f6eade" />
<rect x="186.76" y="498.25" width="4.90" height="3.35" fill="#f4e1d3" />
<rect x="193.32" y="490.29" width="4.90" height="11.31" fill="#edc8b0" />
<rect x="199.89" y="497.51" width="4.90" height="4.09" fill="#f3decf" />
<rect x="206.45" y="497.25" width="4.90" height="4.35" fill="#f3decf" />
<rect x="213.01" y="474.20" width="4.90" height="27.41" fill="#e29274" />
<rect x="219.58" y="473.33" width="4.90" height="28.28" fill="#e28f71" />
<rect x="226.14" y="499.12" width="4.90" height="2.48" fill="#f4e4d7" />
<rect x="232.70" y="496.38" width="4.90" height="5.22" fill="#f2dbcb" />
<rect x="239.27" y="456.36" width="4.90" height="45.24" fill="#d35454" />
<rect x="245.83" y="487.25" width="4.90" height="14.36" fill="#eabea3" />
<rect x="252.39" y="495.29" width="4.90" height="6.31" fill="#f1d7c5" />
<rect x="258.95" y="498.38" width="4.90" height="3.22" fill="#f4e1d3" />
<rect x="265.52" y="473.76" width="4.90" height="27.84" fill="#e29072" />
<rect x="272.08" y="475.06" width="4.90" height="26.54" fill="#e39576" />
<rect x="278.64" y="466.80" width="4.90" height="34.80" fill="#dd7960" />
<rect x="285.21" y="494.64" width="4.90" height="6.96" fill="#f0d6c3" />
<rect x="291.77" y="500.12" width="4.90" height="1.48" fill="#f5e7db" />
<rect x="298.33" y="499.12" width="4.90" height="2.48" fill="#f4e4d7" />
<rect x="304.90" y="498.38" width="4.90" height="3.22" fill="#f4e1d3" />
<rect x="311.46" y="487.25" width="4.90" height="14.36" fill="#eabea3" />
<rect x="318.02" y="482.46" width="4.90" height="19.14" fill="#e7ae90" />
<rect x="324.58" y="498.25" width="4.90" height="3.35" fill="#f4e1d3" />
<rect x="331.15" y="499.43" width="4.90" height="2.18" fill="#f5e5d9" />
<rect x="337.71" y="490.29" width="4.90" height="11.31" fill="#edc8b0" />
<rect x="344.27" y="500.43" width="4.90" height="1.17" fill="#f6e8dd" />
<rect x="350.84" y="500.86" width="4.90" height="0.74" fill="#f6eade" />
<rect x="357.40" y="501.38" width="4.90" height="0.22" fill="#f7ebe0" />
<rect x="363.96" y="500.86" width="4.90" height="0.74" fill="#f6eade" />
<rect x="370.53" y="498.25" width="4.90" height="3.35" fill="#f4e1d3" />
<rect x="377.09" y="500.86" width="4.90" height="0.74" fill="#f6eade" />
<rect x="383.65" y="499.86" width="4.90" height="1.74" fill="#f5e7db" />
<rect x="390.21" y="498.69" width="4.90" height="2.91" fill="#f4e2d5" />
<rect x="396.78" y="496.38" width="4.90" height="5.22" fill="#f2dbcb" />
<rect x="403.34" y="494.21" width="4.90" height="7.40" fill="#f0d4c2" />
<rect x="409.90" y="491.60" width="4.90" height="10.01" fill="#eeccb6" />
<rect x="416.47" y="493.99" width="4.90" height="7.61" fill="#f0d3c0" />
<rect x="423.03" y="500.12" width="4.90" height="1.48" fill="#f5e7db" />
<rect x="429.59" y="498.38" width="4.90" height="3.22" fill="#f4e1d3" />
<rect x="436.16" y="500.43" width="4.90" height="1.17" fill="#f6e8dd" />
<rect x="442.72" y="495.73" width="4.90" height="5.87" fill="#f1d9c7" />
<rect x="449.28" y="497.51" width="4.90" height="4.09" fill="#f3decf" />
<rect x="455.84" y="490.29" width="4.90" height="11.31" fill="#edc8b0" />
<rect x="462.41" y="499.43" width="4.90" height="2.18" fill="#f5e5d9" />
<rect x="468.97" y="483.33" width="4.90" height="18.27" fill="#e8b193" />
<rect x="475.53" y="476.37" width="4.90" height="25.23" fill="#e4997b" />
<rect x="482.10" y="500.12" width="4.90" height="1.48" fill="#f5e7db" />
<rect x="488.66" y="501.38" width="4.90" height="0.22" fill="#f7ebe0" />
<rect x="495.22" y="501.38" width="4.90" height="0.22" fill="#f7ebe0" />
<rect x="501.79" y="501.38" width="4.90" height="0.22" fill="#f7ebe0" />
<rect x="508.35" y="497.95" width="4.90" height="3.65" fill="#f3e0d1" />
<rect x="514.91" y="501.17" width="4.90" height="0.43" fill="#f7ebe0" />
<rect x="521.47" y="501.38" width="4.90" height="0.22" fill="#f7ebe0" />
<rect x="534.60" y="498.38" width="4.90" height="3.22" fill="#f4e1d3" />
<rect x="541.16" y="498.69" width="4.90" height="2.91" fill="#f4e2d5" />
<rect x="547.73" y="499.43" width="4.90" height="2.18" fill="#f5e5d9" />
<rect x="554.29" y="500.12" width="4.90" height="1.48" fill="#f5e7db" />
<rect x="560.85" y="501.38" width="4.90" height="0.22" fill="#f7ebe0" />
<rect x="567.42" y="501.38" width="4.90" height="0.22" fill="#f7ebe0" />
<rect x="573.98" y="501.38" width="4.90" height="0.22" fill="#f7ebe0" />
<rect x="580.54" y="501.17" width="4.90" height="0.43" fill="#f7ebe0" />
<rect x="587.11" y="501.38" width="4.90" height="0.22" fill="#f7ebe0" />
<rect x="593.67" y="501.38" width="4.90" height="0.22" fill="#f7ebe0" />
<rect x="600.23" y="501.17" width="4.90" height="0.43" fill="#f7ebe0" />
<rect x="606.79" y="501.38" width="4.90" height="0.22" fill="#f7ebe0" />
<rect x="613.36" y="501.38" width="4.90" height="0.22" fill="#f7ebe0" />
<rect x="619.92" y="500.12" width="4.90" height="1.48" fill="#f5e7db" />
<rect x="626.48" y="501.17" width="4.90" height="0.43" fill="#f7ebe0" />
<rect x="633.05" y="501.38" width="4.90" height="0.22" fill="#f7ebe0" />
<rect x="639.61" y="499.12" width="4.90" height="2.48" fill="#f4e4d7" />
<rect x="646.17" y="497.25" width="4.90" height="4.35" fill="#f3decf" />
<rect x="652.74" y="501.38" width="4.90" height="0.22" fill="#f7ebe0" />
<rect x="659.30" y="501.38" width="4.90" height="0.22" fill="#f7ebe0" />
<rect x="665.86" y="500.12" width="4.90" height="1.48" fill="#f5e7db" />
<rect x="672.42" y="500.56" width="4.90" height="1.04" fill="#f6e8dd" />
<rect x="678.99" y="501.38" width="4.90" height="0.22" fill="#f7ebe0" />
<line x1="31.70" y1="450.71" x2="31.70" y2="465.50" stroke="#333" stroke-width="0.55" />
<circle cx="31.74" cy="461.98" r="0.5" fill="#111"/>
<circle cx="31.80" cy="460.02" r="0.5" fill="#111"/>
<line x1="38.26" y1="455.06" x2="38.26" y2="475.07" stroke="#333" stroke-width="0.55" />
<circle cx="37.83" cy="462.54" r="0.5" fill="#111"/>
<circle cx="38.60" cy="474.80" r="0.5" fill="#111"/>
<line x1="44.83" y1="438.09" x2="44.83" y2="455.49" stroke="#333" stroke-width="0.55" />
<circle cx="44.56" cy="450.98" r="0.5" fill="#111"/>
<circle cx="44.80" cy="438.17" r="0.5" fill="#111"/>
<line x1="51.39" y1="455.06" x2="51.39" y2="484.64" stroke="#333" stroke-width="0.55" />
<circle cx="51.37" cy="459.89" r="0.5" fill="#111"/>
<circle cx="51.04" cy="465.73" r="0.5" fill="#111"/>
<line x1="57.95" y1="436.79" x2="57.95" y2="469.85" stroke="#333" stroke-width="0.55" />
<circle cx="58.32" cy="448.86" r="0.5" fill="#111"/>
<circle cx="58.19" cy="452.55" r="0.5" fill="#111"/>
<line x1="64.52" y1="421.12" x2="64.52" y2="430.70" stroke="#333" stroke-width="0.55" />
<circle cx="64.08" cy="424.27" r="0.5" fill="#111"/>
<circle cx="64.61" cy="423.44" r="0.5" fill="#111"/>
<line x1="71.08" y1="448.53" x2="71.08" y2="486.81" stroke="#333" stroke-width="0.55" />
<circle cx="70.61" cy="475.28" r="0.5" fill="#111"/>
<circle cx="71.05" cy="453.68" r="0.5" fill="#111"/>
<line x1="77.64" y1="442.88" x2="77.64" y2="452.45" stroke="#333" stroke-width="0.55" />
<circle cx="78.02" cy="445.57" r="0.5" fill="#111"/>
<circle cx="78.06" cy="445.61" r="0.5" fill="#111"/>
<line x1="84.20" y1="374.58" x2="84.20" y2="402.42" stroke="#333" stroke-width="0.55" />
<circle cx="84.50" cy="391.42" r="0.5" fill="#111"/>
<circle cx="84.64" cy="390.04" r="0.5" fill="#111"/>
<line x1="90.77" y1="445.05" x2="90.77" y2="448.53" stroke="#333" stroke-width="0.55" />
<circle cx="90.36" cy="445.47" r="0.5" fill="#111"/>
<circle cx="90.48" cy="448.06" r="0.5" fill="#111"/>
<line x1="97.33" y1="461.15" x2="97.33" y2="477.68" stroke="#333" stroke-width="0.55" />
<circle cx="97.27" cy="461.72" r="0.5" fill="#111"/>
<circle cx="97.13" cy="467.32" r="0.5" fill="#111"/>
<line x1="103.89" y1="462.02" x2="103.89" y2="487.25" stroke="#333" stroke-width="0.55" />
<circle cx="103.78" cy="474.45" r="0.5" fill="#111"/>
<circle cx="103.98" cy="478.39" r="0.5" fill="#111"/>
<line x1="110.46" y1="498.38" x2="110.46" y2="501.60" stroke="#333" stroke-width="0.55" />
<circle cx="110.86" cy="500.08" r="0.5" fill="#111"/>
<circle cx="110.88" cy="499.68" r="0.5" fill="#111"/>
<line x1="117.02" y1="500.30" x2="117.02" y2="501.60" stroke="#333" stroke-width="0.55" />
<circle cx="117.51" cy="500.54" r="0.5" fill="#111"/>
<circle cx="116.68" cy="500.87" r="0.5" fill="#111"/>
<line x1="123.58" y1="480.29" x2="123.58" y2="488.12" stroke="#333" stroke-width="0.55" />
<circle cx="124.05" cy="481.38" r="0.5" fill="#111"/>
<circle cx="123.65" cy="481.03" r="0.5" fill="#111"/>
<line x1="130.14" y1="496.38" x2="130.14" y2="501.60" stroke="#333" stroke-width="0.55" />
<circle cx="129.86" cy="498.70" r="0.5" fill="#111"/>
<circle cx="130.22" cy="497.74" r="0.5" fill="#111"/>
<line x1="136.71" y1="498.38" x2="136.71" y2="501.60" stroke="#333" stroke-width="0.55" />
<circle cx="136.27" cy="500.87" r="0.5" fill="#111"/>
<circle cx="137.20" cy="498.89" r="0.5" fill="#111"/>
<line x1="143.27" y1="430.70" x2="143.27" y2="485.50" stroke="#333" stroke-width="0.55" />
<circle cx="143.57" cy="480.65" r="0.5" fill="#111"/>
<circle cx="142.92" cy="463.01" r="0.5" fill="#111"/>
<line x1="149.83" y1="499.43" x2="149.83" y2="499.95" stroke="#333" stroke-width="0.55" />
<circle cx="150.10" cy="499.79" r="0.5" fill="#111"/>
<circle cx="149.38" cy="499.49" r="0.5" fill="#111"/>
<line x1="156.40" y1="497.69" x2="156.40" y2="501.17" stroke="#333" stroke-width="0.55" />
<circle cx="155.94" cy="499.03" r="0.5" fill="#111"/>
<circle cx="156.23" cy="498.66" r="0.5" fill="#111"/>
<line x1="162.96" y1="495.95" x2="162.96" y2="501.60" stroke="#333" stroke-width="0.55" />
<circle cx="163.44" cy="496.70" r="0.5" fill="#111"/>
<circle cx="163.46" cy="499.09" r="0.5" fill="#111"/>
<line x1="169.52" y1="498.38" x2="169.52" y2="501.60" stroke="#333" stroke-width="0.55" />
<circle cx="169.10" cy="501.80" r="0.5" fill="#111"/>
<circle cx="169.05" cy="500.37" r="0.5" fill="#111"/>
<line x1="176.09" y1="500.73" x2="176.09" y2="501.60" stroke="#333" stroke-width="0.55" />
<circle cx="175.99" cy="501.78" r="0.5" fill="#111"/>
<circle cx="175.74" cy="501.24" r="0.5" fill="#111"/>
<line x1="182.65" y1="499.86" x2="182.65" y2="501.60" stroke="#333" stroke-width="0.55" />
<circle cx="183.02" cy="501.53" r="0.5" fill="#111"/>
<circle cx="183.11" cy="501.05" r="0.5" fill="#111"/>
<line x1="189.21" y1="494.64" x2="189.21" y2="501.60" stroke="#333" stroke-width="0.55" />
<circle cx="189.09" cy="495.39" r="0.5" fill="#111"/>
<circle cx="189.23" cy="498.54" r="0.5" fill="#111"/>
<line x1="195.77" y1="486.81" x2="195.77" y2="493.77" stroke="#333" stroke-width="0.55" />
<circle cx="195.87" cy="489.29" r="0.5" fill="#111"/>
<circle cx="195.90" cy="489.88" r="0.5" fill="#111"/>
<line x1="202.34" y1="494.64" x2="202.34" y2="500.38" stroke="#333" stroke-width="0.55" />
<circle cx="202.35" cy="494.98" r="0.5" fill="#111"/>
<circle cx="202.56" cy="497.91" r="0.5" fill="#111"/>
<line x1="208.90" y1="495.95" x2="208.90" y2="498.56" stroke="#333" stroke-width="0.55" />
<circle cx="208.70" cy="497.93" r="0.5" fill="#111"/>
<circle cx="208.92" cy="496.00" r="0.5" fill="#111"/>
<line x1="215.46" y1="465.06" x2="215.46" y2="483.33" stroke="#333" stroke-width="0.55" />
<circle cx="214.98" cy="473.31" r="0.5" fill="#111"/>
<circle cx="215.54" cy="475.74" r="0.5" fill="#111"/>
<line x1="222.03" y1="471.15" x2="222.03" y2="475.50" stroke="#333" stroke-width="0.55" />
<circle cx="222.14" cy="475.41" r="0.5" fill="#111"/>
<circle cx="221.59" cy="472.75" r="0.5" fill="#111"/>
<line x1="228.59" y1="494.64" x2="228.59" y2="501.60" stroke="#333" stroke-width="0.55" />
<circle cx="228.56" cy="497.98" r="0.5" fill="#111"/>
<circle cx="228.44" cy="497.51" r="0.5" fill="#111"/>
<line x1="235.15" y1="487.25" x2="235.15" y2="501.60" stroke="#333" stroke-width="0.55" />
<circle cx="235.39" cy="492.60" r="0.5" fill="#111"/>
<circle cx="234.71" cy="505.11" r="0.5" fill="#111"/>
<line x1="241.72" y1="426.78" x2="241.72" y2="485.94" stroke="#333" stroke-width="0.55" />
<circle cx="242.18" cy="445.95" r="0.5" fill="#111"/>
<circle cx="241.67" cy="471.08" r="0.5" fill="#111"/>
<line x1="248.28" y1="474.63" x2="248.28" y2="499.86" stroke="#333" stroke-width="0.55" />
<circle cx="248.10" cy="484.91" r="0.5" fill="#111"/>
<circle cx="248.09" cy="490.68" r="0.5" fill="#111"/>
<line x1="254.84" y1="487.68" x2="254.84" y2="501.60" stroke="#333" stroke-width="0.55" />
<circle cx="254.94" cy="497.28" r="0.5" fill="#111"/>
<circle cx="254.72" cy="498.33" r="0.5" fill="#111"/>
<line x1="261.40" y1="492.47" x2="261.40" y2="501.60" stroke="#333" stroke-width="0.55" />
<circle cx="260.93" cy="495.16" r="0.5" fill="#111"/>
<circle cx="261.64" cy="497.56" r="0.5" fill="#111"/>
<line x1="267.97" y1="469.41" x2="267.97" y2="478.11" stroke="#333" stroke-width="0.55" />
<circle cx="267.69" cy="475.41" r="0.5" fill="#111"/>
<circle cx="267.71" cy="471.12" r="0.5" fill="#111"/>
<line x1="274.53" y1="461.58" x2="274.53" y2="488.55" stroke="#333" stroke-width="0.55" />
<circle cx="274.47" cy="483.50" r="0.5" fill="#111"/>
<circle cx="274.13" cy="469.72" r="0.5" fill="#111"/>
<line x1="281.09" y1="447.23" x2="281.09" y2="486.38" stroke="#333" stroke-width="0.55" />
<circle cx="280.93" cy="473.77" r="0.5" fill="#111"/>
<circle cx="281.03" cy="453.74" r="0.5" fill="#111"/>
<line x1="287.66" y1="491.60" x2="287.66" y2="497.69" stroke="#333" stroke-width="0.55" />
<circle cx="287.33" cy="492.47" r="0.5" fill="#111"/>
<circle cx="287.81" cy="495.63" r="0.5" fill="#111"/>
<line x1="294.22" y1="497.51" x2="294.22" y2="501.60" stroke="#333" stroke-width="0.55" />
<circle cx="294.17" cy="498.11" r="0.5" fill="#111"/>
<circle cx="293.84" cy="501.56" r="0.5" fill="#111"/>
<line x1="300.78" y1="496.38" x2="300.78" y2="501.60" stroke="#333" stroke-width="0.55" />
<circle cx="300.47" cy="498.96" r="0.5" fill="#111"/>
<circle cx="301.12" cy="497.44" r="0.5" fill="#111"/>
<line x1="307.35" y1="492.03" x2="307.35" y2="501.60" stroke="#333" stroke-width="0.55" />
<circle cx="307.12" cy="502.40" r="0.5" fill="#111"/>
<circle cx="307.49" cy="494.48" r="0.5" fill="#111"/>
<line x1="313.91" y1="480.72" x2="313.91" y2="493.77" stroke="#333" stroke-width="0.55" />
<circle cx="313.75" cy="483.25" r="0.5" fill="#111"/>
<circle cx="313.70" cy="492.08" r="0.5" fill="#111"/>
<line x1="320.47" y1="458.97" x2="320.47" y2="501.60" stroke="#333" stroke-width="0.55" />
<circle cx="320.24" cy="468.65" r="0.5" fill="#111"/>
<circle cx="320.39" cy="489.68" r="0.5" fill="#111"/>
<line x1="327.03" y1="494.64" x2="327.03" y2="501.60" stroke="#333" stroke-width="0.55" />
<circle cx="326.94" cy="498.83" r="0.5" fill="#111"/>
<circle cx="326.69" cy="495.21" r="0.5" fill="#111"/>
<line x1="333.60" y1="497.25" x2="333.60" y2="501.60" stroke="#333" stroke-width="0.55" />
<circle cx="334.04" cy="501.58" r="0.5" fill="#111"/>
<circle cx="334.08" cy="497.77" r="0.5" fill="#111"/>
<line x1="340.16" y1="478.55" x2="340.16" y2="501.60" stroke="#333" stroke-width="0.55" />
<circle cx="340.61" cy="491.83" r="0.5" fill="#111"/>
<circle cx="339.88" cy="480.25" r="0.5" fill="#111"/>
<line x1="346.72" y1="498.38" x2="346.72" y2="501.60" stroke="#333" stroke-width="0.55" />
<circle cx="347.06" cy="499.42" r="0.5" fill="#111"/>
<circle cx="346.74" cy="499.76" r="0.5" fill="#111"/>
<line x1="353.29" y1="499.43" x2="353.29" y2="501.60" stroke="#333" stroke-width="0.55" />
<circle cx="353.13" cy="501.47" r="0.5" fill="#111"/>
<circle cx="352.86" cy="501.64" r="0.5" fill="#111"/>
<line x1="359.85" y1="501.17" x2="359.85" y2="501.60" stroke="#333" stroke-width="0.55" />
<circle cx="359.64" cy="501.34" r="0.5" fill="#111"/>
<circle cx="359.40" cy="501.25" r="0.5" fill="#111"/>
<line x1="366.41" y1="499.43" x2="366.41" y2="501.60" stroke="#333" stroke-width="0.55" />
<circle cx="366.61" cy="499.70" r="0.5" fill="#111"/>
<circle cx="366.81" cy="499.64" r="0.5" fill="#111"/>
<line x1="372.98" y1="494.64" x2="372.98" y2="501.60" stroke="#333" stroke-width="0.55" />
<circle cx="373.05" cy="495.36" r="0.5" fill="#111"/>
<circle cx="373.22" cy="501.77" r="0.5" fill="#111"/>
<line x1="379.54" y1="499.43" x2="379.54" y2="501.60" stroke="#333" stroke-width="0.55" />
<circle cx="379.34" cy="501.80" r="0.5" fill="#111"/>
<circle cx="379.56" cy="500.39" r="0.5" fill="#111"/>
<line x1="386.10" y1="496.38" x2="386.10" y2="501.60" stroke="#333" stroke-width="0.55" />
<circle cx="386.54" cy="500.46" r="0.5" fill="#111"/>
<circle cx="385.94" cy="499.08" r="0.5" fill="#111"/>
<line x1="392.66" y1="494.64" x2="392.66" y2="501.60" stroke="#333" stroke-width="0.55" />
<circle cx="393.03" cy="500.69" r="0.5" fill="#111"/>
<circle cx="392.95" cy="498.87" r="0.5" fill="#111"/>
<line x1="399.23" y1="489.42" x2="399.23" y2="501.60" stroke="#333" stroke-width="0.55" />
<circle cx="398.93" cy="498.44" r="0.5" fill="#111"/>
<circle cx="399.54" cy="495.90" r="0.5" fill="#111"/>
<line x1="405.79" y1="485.50" x2="405.79" y2="501.60" stroke="#333" stroke-width="0.55" />
<circle cx="406.08" cy="499.92" r="0.5" fill="#111"/>
<circle cx="406.10" cy="486.87" r="0.5" fill="#111"/>
<line x1="412.35" y1="477.68" x2="412.35" y2="501.60" stroke="#333" stroke-width="0.55" />
<circle cx="411.86" cy="482.59" r="0.5" fill="#111"/>
<circle cx="412.72" cy="488.01" r="0.5" fill="#111"/>
<line x1="418.92" y1="487.68" x2="418.92" y2="500.30" stroke="#333" stroke-width="0.55" />
<circle cx="418.69" cy="499.67" r="0.5" fill="#111"/>
<circle cx="418.94" cy="496.91" r="0.5" fill="#111"/>
<line x1="425.48" y1="499.86" x2="425.48" y2="500.38" stroke="#333" stroke-width="0.55" />
<circle cx="425.45" cy="500.16" r="0.5" fill="#111"/>
<circle cx="424.98" cy="499.98" r="0.5" fill="#111"/>
<line x1="432.04" y1="493.55" x2="432.04" y2="501.60" stroke="#333" stroke-width="0.55" />
<circle cx="431.67" cy="502.68" r="0.5" fill="#111"/>
<circle cx="431.61" cy="502.01" r="0.5" fill="#111"/>
<circle cx="438.96" cy="500.30" r="0.5" fill="#111"/>
<circle cx="438.61" cy="500.53" r="0.5" fill="#111"/>
<line x1="445.17" y1="490.73" x2="445.17" y2="500.73" stroke="#333" stroke-width="0.55" />
<circle cx="444.98" cy="497.57" r="0.5" fill="#111"/>
<circle cx="445.32" cy="497.22" r="0.5" fill="#111"/>
<line x1="451.73" y1="492.47" x2="451.73" y2="501.60" stroke="#333" stroke-width="0.55" />
<circle cx="451.59" cy="496.64" r="0.5" fill="#111"/>
<circle cx="451.56" cy="500.63" r="0.5" fill="#111"/>
<line x1="458.29" y1="479.85" x2="458.29" y2="500.73" stroke="#333" stroke-width="0.55" />
<circle cx="458.35" cy="498.15" r="0.5" fill="#111"/>
<circle cx="458.18" cy="485.78" r="0.5" fill="#111"/>
<line x1="464.86" y1="496.81" x2="464.86" y2="501.60" stroke="#333" stroke-width="0.55" />
<circle cx="464.54" cy="501.62" r="0.5" fill="#111"/>
<circle cx="464.96" cy="500.09" r="0.5" fill="#111"/>
<line x1="471.42" y1="468.54" x2="471.42" y2="498.12" stroke="#333" stroke-width="0.55" />
<circle cx="471.30" cy="474.97" r="0.5" fill="#111"/>
<circle cx="471.54" cy="474.42" r="0.5" fill="#111"/>
<line x1="477.98" y1="466.37" x2="477.98" y2="486.38" stroke="#333" stroke-width="0.55" />
<circle cx="477.86" cy="477.74" r="0.5" fill="#111"/>
<circle cx="478.19" cy="476.45" r="0.5" fill="#111"/>
<line x1="484.55" y1="497.51" x2="484.55" y2="501.60" stroke="#333" stroke-width="0.55" />
<circle cx="484.74" cy="500.54" r="0.5" fill="#111"/>
<circle cx="484.29" cy="500.33" r="0.5" fill="#111"/>
<line x1="491.11" y1="501.17" x2="491.11" y2="501.60" stroke="#333" stroke-width="0.55" />
<circle cx="491.31" cy="501.37" r="0.5" fill="#111"/>
<circle cx="491.03" cy="501.57" r="0.5" fill="#111"/>
<line x1="497.67" y1="501.17" x2="497.67" y2="501.60" stroke="#333" stroke-width="0.55" />
<circle cx="498.05" cy="501.41" r="0.5" fill="#111"/>
<circle cx="497.55" cy="501.19" r="0.5" fill="#111"/>
<line x1="504.24" y1="501.17" x2="504.24" y2="501.60" stroke="#333" stroke-width="0.55" />
<circle cx="504.53" cy="501.21" r="0.5" fill="#111"/>
<circle cx="504.20" cy="501.49" r="0.5" fill="#111"/>
<line x1="510.80" y1="488.55" x2="510.80" y2="501.60" stroke="#333" stroke-width="0.55" />
<circle cx="511.11" cy="505.03" r="0.5" fill="#111"/>
<circle cx="511.19" cy="494.90" r="0.5" fill="#111"/>
<line x1="517.36" y1="500.30" x2="517.36" y2="501.60" stroke="#333" stroke-width="0.55" />
<circle cx="517.53" cy="500.66" r="0.5" fill="#111"/>
<circle cx="517.43" cy="500.76" r="0.5" fill="#111"/>
<line x1="523.92" y1="500.30" x2="523.92" y2="501.60" stroke="#333" stroke-width="0.55" />
<circle cx="524.01" cy="502.25" r="0.5" fill="#111"/>
<circle cx="523.57" cy="502.46" r="0.5" fill="#111"/>
<line x1="530.49" y1="501.38" x2="530.49" y2="501.60" stroke="#333" stroke-width="0.55" />
<circle cx="530.03" cy="501.48" r="0.5" fill="#111"/>
<circle cx="530.09" cy="501.78" r="0.5" fill="#111"/>
<line x1="537.05" y1="491.60" x2="537.05" y2="501.60" stroke="#333" stroke-width="0.55" />
<circle cx="536.73" cy="493.22" r="0.5" fill="#111"/>
<circle cx="537.39" cy="504.85" r="0.5" fill="#111"/>
<line x1="543.61" y1="493.55" x2="543.61" y2="501.60" stroke="#333" stroke-width="0.55" />
<circle cx="543.96" cy="502.57" r="0.5" fill="#111"/>
<circle cx="543.95" cy="496.90" r="0.5" fill="#111"/>
<line x1="550.18" y1="496.81" x2="550.18" y2="501.60" stroke="#333" stroke-width="0.55" />
<circle cx="550.26" cy="497.06" r="0.5" fill="#111"/>
<circle cx="549.71" cy="497.87" r="0.5" fill="#111"/>
<line x1="556.74" y1="497.51" x2="556.74" y2="501.60" stroke="#333" stroke-width="0.55" />
<circle cx="556.75" cy="498.73" r="0.5" fill="#111"/>
<circle cx="556.35" cy="499.00" r="0.5" fill="#111"/>
<line x1="563.30" y1="500.95" x2="563.30" y2="501.60" stroke="#333" stroke-width="0.55" />
<circle cx="563.74" cy="501.17" r="0.5" fill="#111"/>
<circle cx="563.13" cy="501.76" r="0.5" fill="#111"/>
<line x1="569.87" y1="500.95" x2="569.87" y2="501.60" stroke="#333" stroke-width="0.55" />
<circle cx="570.19" cy="501.33" r="0.5" fill="#111"/>
<circle cx="569.55" cy="501.61" r="0.5" fill="#111"/>
<line x1="576.43" y1="500.95" x2="576.43" y2="501.60" stroke="#333" stroke-width="0.55" />
<circle cx="576.54" cy="501.60" r="0.5" fill="#111"/>
<circle cx="576.32" cy="501.16" r="0.5" fill="#111"/>
<line x1="582.99" y1="500.30" x2="582.99" y2="501.60" stroke="#333" stroke-width="0.55" />
<circle cx="582.89" cy="501.40" r="0.5" fill="#111"/>
<circle cx="582.91" cy="501.43" r="0.5" fill="#111"/>
<line x1="589.56" y1="500.95" x2="589.56" y2="501.60" stroke="#333" stroke-width="0.55" />
<circle cx="589.56" cy="501.75" r="0.5" fill="#111"/>
<circle cx="589.47" cy="500.97" r="0.5" fill="#111"/>
<line x1="596.12" y1="500.95" x2="596.12" y2="501.60" stroke="#333" stroke-width="0.55" />
<circle cx="595.78" cy="501.17" r="0.5" fill="#111"/>
<circle cx="596.37" cy="501.22" r="0.5" fill="#111"/>
<line x1="602.68" y1="500.73" x2="602.68" y2="501.60" stroke="#333" stroke-width="0.55" />
<circle cx="602.70" cy="501.01" r="0.5" fill="#111"/>
<circle cx="602.82" cy="501.18" r="0.5" fill="#111"/>
<line x1="609.24" y1="500.95" x2="609.24" y2="501.60" stroke="#333" stroke-width="0.55" />
<circle cx="608.89" cy="501.04" r="0.5" fill="#111"/>
<circle cx="609.49" cy="501.73" r="0.5" fill="#111"/>
<line x1="615.81" y1="500.95" x2="615.81" y2="501.60" stroke="#333" stroke-width="0.55" />
<circle cx="615.82" cy="501.02" r="0.5" fill="#111"/>
<circle cx="616.03" cy="501.43" r="0.5" fill="#111"/>
<line x1="622.37" y1="495.73" x2="622.37" y2="501.60" stroke="#333" stroke-width="0.55" />
<circle cx="622.14" cy="502.88" r="0.5" fill="#111"/>
<circle cx="622.46" cy="502.76" r="0.5" fill="#111"/>
<line x1="628.93" y1="500.12" x2="628.93" y2="501.60" stroke="#333" stroke-width="0.55" />
<circle cx="628.67" cy="501.55" r="0.5" fill="#111"/>
<circle cx="629.39" cy="500.77" r="0.5" fill="#111"/>
<line x1="635.50" y1="501.17" x2="635.50" y2="501.60" stroke="#333" stroke-width="0.55" />
<circle cx="635.70" cy="501.47" r="0.5" fill="#111"/>
<circle cx="635.85" cy="501.42" r="0.5" fill="#111"/>
<line x1="642.06" y1="493.77" x2="642.06" y2="501.60" stroke="#333" stroke-width="0.55" />
<circle cx="641.83" cy="498.21" r="0.5" fill="#111"/>
<circle cx="641.58" cy="502.14" r="0.5" fill="#111"/>
<line x1="648.62" y1="486.38" x2="648.62" y2="501.60" stroke="#333" stroke-width="0.55" />
<circle cx="648.50" cy="497.70" r="0.5" fill="#111"/>
<circle cx="648.48" cy="504.38" r="0.5" fill="#111"/>
<line x1="655.19" y1="500.73" x2="655.19" y2="501.60" stroke="#333" stroke-width="0.55" />
<circle cx="655.46" cy="501.61" r="0.5" fill="#111"/>
<circle cx="655.68" cy="501.85" r="0.5" fill="#111"/>
<line x1="661.75" y1="501.17" x2="661.75" y2="501.60" stroke="#333" stroke-width="0.55" />
<circle cx="661.85" cy="501.39" r="0.5" fill="#111"/>
<circle cx="662.08" cy="501.40" r="0.5" fill="#111"/>
<line x1="668.31" y1="495.29" x2="668.31" y2="501.60" stroke="#333" stroke-width="0.55" />
<circle cx="668.37" cy="497.02" r="0.5" fill="#111"/>
<circle cx="668.53" cy="500.30" r="0.5" fill="#111"/>
<line x1="674.87" y1="497.95" x2="674.87" y2="501.60" stroke="#333" stroke-width="0.55" />
<circle cx="674.77" cy="498.69" r="0.5" fill="#111"/>
<circle cx="675.33" cy="499.34" r="0.5" fill="#111"/>
<line x1="681.44" y1="500.73" x2="681.44" y2="501.60" stroke="#333" stroke-width="0.55" />
<circle cx="681.17" cy="501.43" r="0.5" fill="#111"/>
<circle cx="681.65" cy="501.73" r="0.5" fill="#111"/>
<line x1="28.40" y1="370.40" x2="28.40" y2="501.60" stroke="#333" stroke-width="0.8" />
<line x1="28.40" y1="501.60" x2="685.00" y2="501.60" stroke="#444" stroke-width="0.8" />
<line x1="26.40" y1="501.60" x2="28.40" y2="501.60" stroke="#333" stroke-width="0.6" />
<text x="25.80" y="503.10" font-size="4.3" text-anchor="end" font-weight="normal" font-style="normal" fill="#333" color="#333"  style="stroke-width:0.06px">0.0</text>
<line x1="26.40" y1="479.85" x2="28.40" y2="479.85" stroke="#333" stroke-width="0.6" />
<text x="25.80" y="481.35" font-size="4.3" text-anchor="end" font-weight="normal" font-style="normal" fill="#333" color="#333"  style="stroke-width:0.06px">0.5</text>
<line x1="26.40" y1="458.10" x2="28.40" y2="458.10" stroke="#333" stroke-width="0.6" />
<text x="25.80" y="459.60" font-size="4.3" text-anchor="end" font-weight="normal" font-style="normal" fill="#333" color="#333"  style="stroke-width:0.06px">1.0</text>
<line x1="26.40" y1="436.35" x2="28.40" y2="436.35" stroke="#333" stroke-width="0.6" />
<text x="25.80" y="437.85" font-size="4.3" text-anchor="end" font-weight="normal" font-style="normal" fill="#333" color="#333"  style="stroke-width:0.06px">1.5</text>
<line x1="26.40" y1="414.60" x2="28.40" y2="414.60" stroke="#333" stroke-width="0.6" />
<text x="25.80" y="416.10" font-size="4.3" text-anchor="end" font-weight="normal" font-style="normal" fill="#333" color="#333"  style="stroke-width:0.06px">2.0</text>
<line x1="26.40" y1="392.85" x2="28.40" y2="392.85" stroke="#333" stroke-width="0.6" />
<text x="25.80" y="394.35" font-size="4.3" text-anchor="end" font-weight="normal" font-style="normal" fill="#333" color="#333"  style="stroke-width:0.06px">2.5</text>
<line x1="26.40" y1="371.10" x2="28.40" y2="371.10" stroke="#333" stroke-width="0.6" />
<text x="25.80" y="372.60" font-size="4.3" text-anchor="end" font-weight="normal" font-style="normal" fill="#333" color="#333"  style="stroke-width:0.06px">3.0</text>
<line x1="31.70" y1="501.60" x2="31.70" y2="502.80" stroke="#333" stroke-width="0.5" />
<text x="31.70" y="507.70" font-size="4.4" text-anchor="middle" font-weight="normal" font-style="normal" fill="#333" color="#333"  style="stroke-width:0.06px">0</text>
<line x1="38.26" y1="501.60" x2="38.26" y2="502.80" stroke="#333" stroke-width="0.5" />
<text x="38.26" y="507.70" font-size="4.4" text-anchor="middle" font-weight="normal" font-style="normal" fill="#333" color="#333"  style="stroke-width:0.06px">1</text>
<line x1="44.83" y1="501.60" x2="44.83" y2="502.80" stroke="#333" stroke-width="0.5" />
<text x="44.83" y="507.70" font-size="4.4" text-anchor="middle" font-weight="normal" font-style="normal" fill="#333" color="#333"  style="stroke-width:0.06px">2</text>
<line x1="51.39" y1="501.60" x2="51.39" y2="502.80" stroke="#333" stroke-width="0.5" />
<text x="51.39" y="507.70" font-size="4.4" text-anchor="middle" font-weight="normal" font-style="normal" fill="#333" color="#333"  style="stroke-width:0.06px">3</text>
<line x1="57.95" y1="501.60" x2="57.95" y2="502.80" stroke="#333" stroke-width="0.5" />
<text x="57.95" y="507.70" font-size="4.4" text-anchor="middle" font-weight="normal" font-style="normal" fill="#333" color="#333"  style="stroke-width:0.06px">4</text>
<line x1="64.52" y1="501.60" x2="64.52" y2="502.80" stroke="#333" stroke-width="0.5" />
<text x="64.52" y="507.70" font-size="4.4" text-anchor="middle" font-weight="normal" font-style="normal" fill="#333" color="#333"  style="stroke-width:0.06px">5</text>
<line x1="71.08" y1="501.60" x2="71.08" y2="502.80" stroke="#333" stroke-width="0.5" />
<text x="71.08" y="507.70" font-size="4.4" text-anchor="middle" font-weight="normal" font-style="normal" fill="#333" color="#333"  style="stroke-width:0.06px">6</text>
<line x1="77.64" y1="501.60" x2="77.64" y2="502.80" stroke="#333" stroke-width="0.5" />
<text x="77.64" y="507.70" font-size="4.4" text-anchor="middle" font-weight="normal" font-style="normal" fill="#333" color="#333"  style="stroke-width:0.06px">7</text>
<line x1="84.20" y1="501.60" x2="84.20" y2="502.80" stroke="#333" stroke-width="0.5" />
<text x="84.20" y="507.70" font-size="4.4" text-anchor="middle" font-weight="normal" font-style="normal" fill="#333" color="#333"  style="stroke-width:0.06px">8</text>
<line x1="90.77" y1="501.60" x2="90.77" y2="502.80" stroke="#333" stroke-width="0.5" />
<text x="90.77" y="507.70" font-size="4.4" text-anchor="middle" font-weight="normal" font-style="normal" fill="#333" color="#333"  style="stroke-width:0.06px">9</text>
<line x1="97.33" y1="501.60" x2="97.33" y2="502.80" stroke="#333" stroke-width="0.5" />
<text x="97.33" y="507.70" font-size="4.4" text-anchor="middle" font-weight="normal" font-style="normal" fill="#333" color="#333"  style="stroke-width:0.06px">10</text>
<line x1="103.89" y1="501.60" x2="103.89" y2="502.80" stroke="#333" stroke-width="0.5" />
<text x="103.89" y="507.70" font-size="4.4" text-anchor="middle" font-weight="normal" font-style="normal" fill="#333" color="#333"  style="stroke-width:0.06px">11</text>
<line x1="110.46" y1="501.60" x2="110.46" y2="502.80" stroke="#333" stroke-width="0.5" />
<text x="110.46" y="507.70" font-size="4.4" text-anchor="middle" font-weight="normal" font-style="normal" fill="#333" color="#333"  style="stroke-width:0.06px">12</text>
<line x1="117.02" y1="501.60" x2="117.02" y2="502.80" stroke="#333" stroke-width="0.5" />
<text x="117.02" y="507.70" font-size="4.4" text-anchor="middle" font-weight="normal" font-style="normal" fill="#333" color="#333"  style="stroke-width:0.06px">13</text>
<line x1="123.58" y1="501.60" x2="123.58" y2="502.80" stroke="#333" stroke-width="0.5" />
<text x="123.58" y="507.70" font-size="4.4" text-anchor="middle" font-weight="normal" font-style="normal" fill="#333" color="#333"  style="stroke-width:0.06px">14</text>
<line x1="130.14" y1="501.60" x2="130.14" y2="502.80" stroke="#333" stroke-width="0.5" />
<text x="130.14" y="507.70" font-size="4.4" text-anchor="middle" font-weight="normal" font-style="normal" fill="#333" color="#333"  style="stroke-width:0.06px">15</text>
<line x1="136.71" y1="501.60" x2="136.71" y2="502.80" stroke="#333" stroke-width="0.5" />
<text x="136.71" y="507.70" font-size="4.4" text-anchor="middle" font-weight="normal" font-style="normal" fill="#333" color="#333"  style="stroke-width:0.06px">16</text>
<line x1="143.27" y1="501.60" x2="143.27" y2="502.80" stroke="#333" stroke-width="0.5" />
<text x="143.27" y="507.70" font-size="4.4" text-anchor="middle" font-weight="normal" font-style="normal" fill="#333" color="#333"  style="stroke-width:0.06px">17</text>
<line x1="149.83" y1="501.60" x2="149.83" y2="502.80" stroke="#333" stroke-width="0.5" />
<text x="149.83" y="507.70" font-size="4.4" text-anchor="middle" font-weight="normal" font-style="normal" fill="#333" color="#333"  style="stroke-width:0.06px">18</text>
<line x1="156.40" y1="501.60" x2="156.40" y2="502.80" stroke="#333" stroke-width="0.5" />
<text x="156.40" y="507.70" font-size="4.4" text-anchor="middle" font-weight="normal" font-style="normal" fill="#333" color="#333"  style="stroke-width:0.06px">19</text>
<line x1="162.96" y1="501.60" x2="162.96" y2="502.80" stroke="#333" stroke-width="0.5" />
<text x="162.96" y="507.70" font-size="4.4" text-anchor="middle" font-weight="normal" font-style="normal" fill="#333" color="#333"  style="stroke-width:0.06px">20</text>
<line x1="169.52" y1="501.60" x2="169.52" y2="502.80" stroke="#333" stroke-width="0.5" />
<text x="169.52" y="507.70" font-size="4.4" text-anchor="middle" font-weight="normal" font-style="normal" fill="#333" color="#333"  style="stroke-width:0.06px">21</text>
<line x1="176.09" y1="501.60" x2="176.09" y2="502.80" stroke="#333" stroke-width="0.5" />
<text x="176.09" y="507.70" font-size="4.4" text-anchor="middle" font-weight="normal" font-style="normal" fill="#333" color="#333"  style="stroke-width:0.06px">22</text>
<line x1="182.65" y1="501.60" x2="182.65" y2="502.80" stroke="#333" stroke-width="0.5" />
<text x="182.65" y="507.70" font-size="4.4" text-anchor="middle" font-weight="normal" font-style="normal" fill="#333" color="#333"  style="stroke-width:0.06px">23</text>
<line x1="189.21" y1="501.60" x2="189.21" y2="502.80" stroke="#333" stroke-width="0.5" />
<text x="189.21" y="507.70" font-size="4.4" text-anchor="middle" font-weight="normal" font-style="normal" fill="#333" color="#333"  style="stroke-width:0.06px">24</text>
<line x1="195.77" y1="501.60" x2="195.77" y2="502.80" stroke="#333" stroke-width="0.5" />
<text x="195.77" y="507.70" font-size="4.4" text-anchor="middle" font-weight="normal" font-style="normal" fill="#333" color="#333"  style="stroke-width:0.06px">25</text>
<line x1="202.34" y1="501.60" x2="202.34" y2="502.80" stroke="#333" stroke-width="0.5" />
<text x="202.34" y="507.70" font-size="4.4" text-anchor="middle" font-weight="normal" font-style="normal" fill="#333" color="#333"  style="stroke-width:0.06px">26</text>
<line x1="208.90" y1="501.60" x2="208.90" y2="502.80" stroke="#333" stroke-width="0.5" />
<text x="208.90" y="507.70" font-size="4.4" text-anchor="middle" font-weight="normal" font-style="normal" fill="#333" color="#333"  style="stroke-width:0.06px">27</text>
<line x1="215.46" y1="501.60" x2="215.46" y2="502.80" stroke="#333" stroke-width="0.5" />
<text x="215.46" y="507.70" font-size="4.4" text-anchor="middle" font-weight="normal" font-style="normal" fill="#333" color="#333"  style="stroke-width:0.06px">28</text>
<line x1="222.03" y1="501.60" x2="222.03" y2="502.80" stroke="#333" stroke-width="0.5" />
<text x="222.03" y="507.70" font-size="4.4" text-anchor="middle" font-weight="normal" font-style="normal" fill="#333" color="#333"  style="stroke-width:0.06px">29</text>
<line x1="228.59" y1="501.60" x2="228.59" y2="502.80" stroke="#333" stroke-width="0.5" />
<text x="228.59" y="507.70" font-size="4.4" text-anchor="middle" font-weight="normal" font-style="normal" fill="#333" color="#333"  style="stroke-width:0.06px">30</text>
<line x1="235.15" y1="501.60" x2="235.15" y2="502.80" stroke="#333" stroke-width="0.5" />
<text x="235.15" y="507.70" font-size="4.4" text-anchor="middle" font-weight="normal" font-style="normal" fill="#333" color="#333"  style="stroke-width:0.06px">31</text>
<line x1="241.72" y1="501.60" x2="241.72" y2="502.80" stroke="#333" stroke-width="0.5" />
<text x="241.72" y="507.70" font-size="4.4" text-anchor="middle" font-weight="normal" font-style="normal" fill="#333" color="#333"  style="stroke-width:0.06px">32</text>
<line x1="248.28" y1="501.60" x2="248.28" y2="502.80" stroke="#333" stroke-width="0.5" />
<text x="248.28" y="507.70" font-size="4.4" text-anchor="middle" font-weight="normal" font-style="normal" fill="#333" color="#333"  style="stroke-width:0.06px">33</text>
<line x1="254.84" y1="501.60" x2="254.84" y2="502.80" stroke="#333" stroke-width="0.5" />
<text x="254.84" y="507.70" font-size="4.4" text-anchor="middle" font-weight="normal" font-style="normal" fill="#333" color="#333"  style="stroke-width:0.06px">34</text>
<line x1="261.40" y1="501.60" x2="261.40" y2="502.80" stroke="#333" stroke-width="0.5" />
<text x="261.40" y="507.70" font-size="4.4" text-anchor="middle" font-weight="normal" font-style="normal" fill="#333" color="#333"  style="stroke-width:0.06px">35</text>
<line x1="267.97" y1="501.60" x2="267.97" y2="502.80" stroke="#333" stroke-width="0.5" />
<text x="267.97" y="507.70" font-size="4.4" text-anchor="middle" font-weight="normal" font-style="normal" fill="#333" color="#333"  style="stroke-width:0.06px">36</text>
<line x1="274.53" y1="501.60" x2="274.53" y2="502.80" stroke="#333" stroke-width="0.5" />
<text x="274.53" y="507.70" font-size="4.4" text-anchor="middle" font-weight="normal" font-style="normal" fill="#333" color="#333"  style="stroke-width:0.06px">37</text>
<line x1="281.09" y1="501.60" x2="281.09" y2="502.80" stroke="#333" stroke-width="0.5" />
<text x="281.09" y="507.70" font-size="4.4" text-anchor="middle" font-weight="normal" font-style="normal" fill="#333" color="#333"  style="stroke-width:0.06px">38</text>
<line x1="287.66" y1="501.60" x2="287.66" y2="502.80" stroke="#333" stroke-width="0.5" />
<text x="287.66" y="507.70" font-size="4.4" text-anchor="middle" font-weight="normal" font-style="normal" fill="#333" color="#333"  style="stroke-width:0.06px">39</text>
<line x1="294.22" y1="501.60" x2="294.22" y2="502.80" stroke="#333" stroke-width="0.5" />
<text x="294.22" y="507.70" font-size="4.4" text-anchor="middle" font-weight="normal" font-style="normal" fill="#333" color="#333"  style="stroke-width:0.06px">40</text>
<line x1="300.78" y1="501.60" x2="300.78" y2="502.80" stroke="#333" stroke-width="0.5" />
<text x="300.78" y="507.70" font-size="4.4" text-anchor="middle" font-weight="normal" font-style="normal" fill="#333" color="#333"  style="stroke-width:0.06px">41</text>
<line x1="307.35" y1="501.60" x2="307.35" y2="502.80" stroke="#333" stroke-width="0.5" />
<text x="307.35" y="507.70" font-size="4.4" text-anchor="middle" font-weight="normal" font-style="normal" fill="#333" color="#333"  style="stroke-width:0.06px">42</text>
<line x1="313.91" y1="501.60" x2="313.91" y2="502.80" stroke="#333" stroke-width="0.5" />
<text x="313.91" y="507.70" font-size="4.4" text-anchor="middle" font-weight="normal" font-style="normal" fill="#333" color="#333"  style="stroke-width:0.06px">43</text>
<line x1="320.47" y1="501.60" x2="320.47" y2="502.80" stroke="#333" stroke-width="0.5" />
<text x="320.47" y="507.70" font-size="4.4" text-anchor="middle" font-weight="normal" font-style="normal" fill="#333" color="#333"  style="stroke-width:0.06px">44</text>
<line x1="327.03" y1="501.60" x2="327.03" y2="502.80" stroke="#333" stroke-width="0.5" />
<text x="327.03" y="507.70" font-size="4.4" text-anchor="middle" font-weight="normal" font-style="normal" fill="#333" color="#333"  style="stroke-width:0.06px">45</text>
<line x1="333.60" y1="501.60" x2="333.60" y2="502.80" stroke="#333" stroke-width="0.5" />
<text x="333.60" y="507.70" font-size="4.4" text-anchor="middle" font-weight="normal" font-style="normal" fill="#333" color="#333"  style="stroke-width:0.06px">46</text>
<line x1="340.16" y1="501.60" x2="340.16" y2="502.80" stroke="#333" stroke-width="0.5" />
<text x="340.16" y="507.70" font-size="4.4" text-anchor="middle" font-weight="normal" font-style="normal" fill="#333" color="#333"  style="stroke-width:0.06px">47</text>
<line x1="346.72" y1="501.60" x2="346.72" y2="502.80" stroke="#333" stroke-width="0.5" />
<text x="346.72" y="507.70" font-size="4.4" text-anchor="middle" font-weight="normal" font-style="normal" fill="#333" color="#333"  style="stroke-width:0.06px">48</text>
<line x1="353.29" y1="501.60" x2="353.29" y2="502.80" stroke="#333" stroke-width="0.5" />
<text x="353.29" y="507.70" font-size="4.4" text-anchor="middle" font-weight="normal" font-style="normal" fill="#333" color="#333"  style="stroke-width:0.06px">49</text>
<line x1="359.85" y1="501.60" x2="359.85" y2="502.80" stroke="#333" stroke-width="0.5" />
<text x="359.85" y="507.70" font-size="4.4" text-anchor="middle" font-weight="normal" font-style="normal" fill="#333" color="#333"  style="stroke-width:0.06px">50</text>
<line x1="366.41" y1="501.60" x2="366.41" y2="502.80" stroke="#333" stroke-width="0.5" />
<text x="366.41" y="507.70" font-size="4.4" text-anchor="middle" font-weight="normal" font-style="normal" fill="#333" color="#333"  style="stroke-width:0.06px">51</text>
<line x1="372.98" y1="501.60" x2="372.98" y2="502.80" stroke="#333" stroke-width="0.5" />
<text x="372.98" y="507.70" font-size="4.4" text-anchor="middle" font-weight="normal" font-style="normal" fill="#333" color="#333"  style="stroke-width:0.06px">52</text>
<line x1="379.54" y1="501.60" x2="379.54" y2="502.80" stroke="#333" stroke-width="0.5" />
<text x="379.54" y="507.70" font-size="4.4" text-anchor="middle" font-weight="normal" font-style="normal" fill="#333" color="#333"  style="stroke-width:0.06px">53</text>
<line x1="386.10" y1="501.60" x2="386.10" y2="502.80" stroke="#333" stroke-width="0.5" />
<text x="386.10" y="507.70" font-size="4.4" text-anchor="middle" font-weight="normal" font-style="normal" fill="#333" color="#333"  style="stroke-width:0.06px">54</text>
<line x1="392.66" y1="501.60" x2="392.66" y2="502.80" stroke="#333" stroke-width="0.5" />
<text x="392.66" y="507.70" font-size="4.4" text-anchor="middle" font-weight="normal" font-style="normal" fill="#333" color="#333"  style="stroke-width:0.06px">55</text>
<line x1="399.23" y1="501.60" x2="399.23" y2="502.80" stroke="#333" stroke-width="0.5" />
<text x="399.23" y="507.70" font-size="4.4" text-anchor="middle" font-weight="normal" font-style="normal" fill="#333" color="#333"  style="stroke-width:0.06px">56</text>
<line x1="405.79" y1="501.60" x2="405.79" y2="502.80" stroke="#333" stroke-width="0.5" />
<text x="405.79" y="507.70" font-size="4.4" text-anchor="middle" font-weight="normal" font-style="normal" fill="#333" color="#333"  style="stroke-width:0.06px">57</text>
<line x1="412.35" y1="501.60" x2="412.35" y2="502.80" stroke="#333" stroke-width="0.5" />
<text x="412.35" y="507.70" font-size="4.4" text-anchor="middle" font-weight="normal" font-style="normal" fill="#333" color="#333"  style="stroke-width:0.06px">58</text>
<line x1="418.92" y1="501.60" x2="418.92" y2="502.80" stroke="#333" stroke-width="0.5" />
<text x="418.92" y="507.70" font-size="4.4" text-anchor="middle" font-weight="normal" font-style="normal" fill="#333" color="#333"  style="stroke-width:0.06px">59</text>
<line x1="425.48" y1="501.60" x2="425.48" y2="502.80" stroke="#333" stroke-width="0.5" />
<text x="425.48" y="507.70" font-size="4.4" text-anchor="middle" font-weight="normal" font-style="normal" fill="#333" color="#333"  style="stroke-width:0.06px">60</text>
<line x1="432.04" y1="501.60" x2="432.04" y2="502.80" stroke="#333" stroke-width="0.5" />
<text x="432.04" y="507.70" font-size="4.4" text-anchor="middle" font-weight="normal" font-style="normal" fill="#333" color="#333"  style="stroke-width:0.06px">61</text>
<line x1="438.61" y1="501.60" x2="438.61" y2="502.80" stroke="#333" stroke-width="0.5" />
<text x="438.61" y="507.70" font-size="4.4" text-anchor="middle" font-weight="normal" font-style="normal" fill="#333" color="#333"  style="stroke-width:0.06px">62</text>
<line x1="445.17" y1="501.60" x2="445.17" y2="502.80" stroke="#333" stroke-width="0.5" />
<text x="445.17" y="507.70" font-size="4.4" text-anchor="middle" font-weight="normal" font-style="normal" fill="#333" color="#333"  style="stroke-width:0.06px">63</text>
<line x1="451.73" y1="501.60" x2="451.73" y2="502.80" stroke="#333" stroke-width="0.5" />
<text x="451.73" y="507.70" font-size="4.4" text-anchor="middle" font-weight="normal" font-style="normal" fill="#333" color="#333"  style="stroke-width:0.06px">64</text>
<line x1="458.29" y1="501.60" x2="458.29" y2="502.80" stroke="#333" stroke-width="0.5" />
<text x="458.29" y="507.70" font-size="4.4" text-anchor="middle" font-weight="normal" font-style="normal" fill="#333" color="#333"  style="stroke-width:0.06px">65</text>
<line x1="464.86" y1="501.60" x2="464.86" y2="502.80" stroke="#333" stroke-width="0.5" />
<text x="464.86" y="507.70" font-size="4.4" text-anchor="middle" font-weight="normal" font-style="normal" fill="#333" color="#333"  style="stroke-width:0.06px">66</text>
<line x1="471.42" y1="501.60" x2="471.42" y2="502.80" stroke="#333" stroke-width="0.5" />
<text x="471.42" y="507.70" font-size="4.4" text-anchor="middle" font-weight="normal" font-style="normal" fill="#333" color="#333"  style="stroke-width:0.06px">67</text>
<line x1="477.98" y1="501.60" x2="477.98" y2="502.80" stroke="#333" stroke-width="0.5" />
<text x="477.98" y="507.70" font-size="4.4" text-anchor="middle" font-weight="normal" font-style="normal" fill="#333" color="#333"  style="stroke-width:0.06px">68</text>
<line x1="484.55" y1="501.60" x2="484.55" y2="502.80" stroke="#333" stroke-width="0.5" />
<text x="484.55" y="507.70" font-size="4.4" text-anchor="middle" font-weight="normal" font-style="normal" fill="#333" color="#333"  style="stroke-width:0.06px">69</text>
<line x1="491.11" y1="501.60" x2="491.11" y2="502.80" stroke="#333" stroke-width="0.5" />
<text x="491.11" y="507.70" font-size="4.4" text-anchor="middle" font-weight="normal" font-style="normal" fill="#333" color="#333"  style="stroke-width:0.06px">70</text>
<line x1="497.67" y1="501.60" x2="497.67" y2="502.80" stroke="#333" stroke-width="0.5" />
<text x="497.67" y="507.70" font-size="4.4" text-anchor="middle" font-weight="normal" font-style="normal" fill="#333" color="#333"  style="stroke-width:0.06px">71</text>
<line x1="504.24" y1="501.60" x2="504.24" y2="502.80" stroke="#333" stroke-width="0.5" />
<text x="504.24" y="507.70" font-size="4.4" text-anchor="middle" font-weight="normal" font-style="normal" fill="#333" color="#333"  style="stroke-width:0.06px">72</text>
<line x1="510.80" y1="501.60" x2="510.80" y2="502.80" stroke="#333" stroke-width="0.5" />
<text x="510.80" y="507.70" font-size="4.4" text-anchor="middle" font-weight="normal" font-style="normal" fill="#333" color="#333"  style="stroke-width:0.06px">73</text>
<line x1="517.36" y1="501.60" x2="517.36" y2="502.80" stroke="#333" stroke-width="0.5" />
<text x="517.36" y="507.70" font-size="4.4" text-anchor="middle" font-weight="normal" font-style="normal" fill="#333" color="#333"  style="stroke-width:0.06px">74</text>
<line x1="523.92" y1="501.60" x2="523.92" y2="502.80" stroke="#333" stroke-width="0.5" />
<text x="523.92" y="507.70" font-size="4.4" text-anchor="middle" font-weight="normal" font-style="normal" fill="#333" color="#333"  style="stroke-width:0.06px">75</text>
<line x1="530.49" y1="501.60" x2="530.49" y2="502.80" stroke="#333" stroke-width="0.5" />
<text x="530.49" y="507.70" font-size="4.4" text-anchor="middle" font-weight="normal" font-style="normal" fill="#333" color="#333"  style="stroke-width:0.06px">76</text>
<line x1="537.05" y1="501.60" x2="537.05" y2="502.80" stroke="#333" stroke-width="0.5" />
<text x="537.05" y="507.70" font-size="4.4" text-anchor="middle" font-weight="normal" font-style="normal" fill="#333" color="#333"  style="stroke-width:0.06px">77</text>
<line x1="543.61" y1="501.60" x2="543.61" y2="502.80" stroke="#333" stroke-width="0.5" />
<text x="543.61" y="507.70" font-size="4.4" text-anchor="middle" font-weight="normal" font-style="normal" fill="#333" color="#333"  style="stroke-width:0.06px">78</text>
<line x1="550.18" y1="501.60" x2="550.18" y2="502.80" stroke="#333" stroke-width="0.5" />
<text x="550.18" y="507.70" font-size="4.4" text-anchor="middle" font-weight="normal" font-style="normal" fill="#333" color="#333"  style="stroke-width:0.06px">79</text>
<line x1="556.74" y1="501.60" x2="556.74" y2="502.80" stroke="#333" stroke-width="0.5" />
<text x="556.74" y="507.70" font-size="4.4" text-anchor="middle" font-weight="normal" font-style="normal" fill="#333" color="#333"  style="stroke-width:0.06px">80</text>
<line x1="563.30" y1="501.60" x2="563.30" y2="502.80" stroke="#333" stroke-width="0.5" />
<text x="563.30" y="507.70" font-size="4.4" text-anchor="middle" font-weight="normal" font-style="normal" fill="#333" color="#333"  style="stroke-width:0.06px">81</text>
<line x1="569.87" y1="501.60" x2="569.87" y2="502.80" stroke="#333" stroke-width="0.5" />
<text x="569.87" y="507.70" font-size="4.4" text-anchor="middle" font-weight="normal" font-style="normal" fill="#333" color="#333"  style="stroke-width:0.06px">82</text>
<line x1="576.43" y1="501.60" x2="576.43" y2="502.80" stroke="#333" stroke-width="0.5" />
<text x="576.43" y="507.70" font-size="4.4" text-anchor="middle" font-weight="normal" font-style="normal" fill="#333" color="#333"  style="stroke-width:0.06px">83</text>
<line x1="582.99" y1="501.60" x2="582.99" y2="502.80" stroke="#333" stroke-width="0.5" />
<text x="582.99" y="507.70" font-size="4.4" text-anchor="middle" font-weight="normal" font-style="normal" fill="#333" color="#333"  style="stroke-width:0.06px">84</text>
<line x1="589.56" y1="501.60" x2="589.56" y2="502.80" stroke="#333" stroke-width="0.5" />
<text x="589.56" y="507.70" font-size="4.4" text-anchor="middle" font-weight="normal" font-style="normal" fill="#333" color="#333"  style="stroke-width:0.06px">85</text>
<line x1="596.12" y1="501.60" x2="596.12" y2="502.80" stroke="#333" stroke-width="0.5" />
<text x="596.12" y="507.70" font-size="4.4" text-anchor="middle" font-weight="normal" font-style="normal" fill="#333" color="#333"  style="stroke-width:0.06px">86</text>
<line x1="602.68" y1="501.60" x2="602.68" y2="502.80" stroke="#333" stroke-width="0.5" />
<text x="602.68" y="507.70" font-size="4.4" text-anchor="middle" font-weight="normal" font-style="normal" fill="#333" color="#333"  style="stroke-width:0.06px">87</text>
<line x1="609.24" y1="501.60" x2="609.24" y2="502.80" stroke="#333" stroke-width="0.5" />
<text x="609.24" y="507.70" font-size="4.4" text-anchor="middle" font-weight="normal" font-style="normal" fill="#333" color="#333"  style="stroke-width:0.06px">88</text>
<line x1="615.81" y1="501.60" x2="615.81" y2="502.80" stroke="#333" stroke-width="0.5" />
<text x="615.81" y="507.70" font-size="4.4" text-anchor="middle" font-weight="normal" font-style="normal" fill="#333" color="#333"  style="stroke-width:0.06px">89</text>
<line x1="622.37" y1="501.60" x2="622.37" y2="502.80" stroke="#333" stroke-width="0.5" />
<text x="622.37" y="507.70" font-size="4.4" text-anchor="middle" font-weight="normal" font-style="normal" fill="#333" color="#333"  style="stroke-width:0.06px">90</text>
<line x1="628.93" y1="501.60" x2="628.93" y2="502.80" stroke="#333" stroke-width="0.5" />
<text x="628.93" y="507.70" font-size="4.4" text-anchor="middle" font-weight="normal" font-style="normal" fill="#333" color="#333"  style="stroke-width:0.06px">91</text>
<line x1="635.50" y1="501.60" x2="635.50" y2="502.80" stroke="#333" stroke-width="0.5" />
<text x="635.50" y="507.70" font-size="4.4" text-anchor="middle" font-weight="normal" font-style="normal" fill="#333" color="#333"  style="stroke-width:0.06px">92</text>
<line x1="642.06" y1="501.60" x2="642.06" y2="502.80" stroke="#333" stroke-width="0.5" />
<text x="642.06" y="507.70" font-size="4.4" text-anchor="middle" font-weight="normal" font-style="normal" fill="#333" color="#333"  style="stroke-width:0.06px">93</text>
<line x1="648.62" y1="501.60" x2="648.62" y2="502.80" stroke="#333" stroke-width="0.5" />
<text x="648.62" y="507.70" font-size="4.4" text-anchor="middle" font-weight="normal" font-style="normal" fill="#333" color="#333"  style="stroke-width:0.06px">94</text>
<line x1="655.19" y1="501.60" x2="655.19" y2="502.80" stroke="#333" stroke-width="0.5" />
<text x="655.19" y="507.70" font-size="4.4" text-anchor="middle" font-weight="normal" font-style="normal" fill="#333" color="#333"  style="stroke-width:0.06px">95</text>
<line x1="661.75" y1="501.60" x2="661.75" y2="502.80" stroke="#333" stroke-width="0.5" />
<text x="661.75" y="507.70" font-size="4.4" text-anchor="middle" font-weight="normal" font-style="normal" fill="#333" color="#333"  style="stroke-width:0.06px">96</text>
<line x1="668.31" y1="501.60" x2="668.31" y2="502.80" stroke="#333" stroke-width="0.5" />
<text x="668.31" y="507.70" font-size="4.4" text-anchor="middle" font-weight="normal" font-style="normal" fill="#333" color="#333"  style="stroke-width:0.06px">97</text>
<line x1="674.87" y1="501.60" x2="674.87" y2="502.80" stroke="#333" stroke-width="0.5" />
<text x="674.87" y="507.70" font-size="4.4" text-anchor="middle" font-weight="normal" font-style="normal" fill="#333" color="#333"  style="stroke-width:0.06px">98</text>
<line x1="681.44" y1="501.60" x2="681.44" y2="502.80" stroke="#333" stroke-width="0.5" />
<text x="681.44" y="507.70" font-size="4.4" text-anchor="middle" font-weight="normal" font-style="normal" fill="#333" color="#333"  style="stroke-width:0.06px">99</text>
<text x="14.80" y="436.80" font-size="8.6" text-anchor="middle" font-weight="normal" font-style="normal" fill="#222" color="#222" transform="rotate(-90 14.8 436.8)" textLength="119.27" lengthAdjust="spacingAndGlyphs">Relative NGS Enrichment  (times)</text>
<text x="355.90" y="514.80" font-size="8.6" text-anchor="middle" font-weight="normal" font-style="normal" fill="#222" color="#222"  textLength="79.97" lengthAdjust="spacingAndGlyphs">Truncation Length (nt)</text>
<path d="M44.4,374.4 L44.4,370.4 L268.3,370.4 L268.3,374.4" stroke="#444" stroke-width="0.9" fill="none" />
<text x="154.00" y="367.00" font-size="8.6" text-anchor="middle" font-weight="normal" font-style="normal" fill="#222" color="#222"  textLength="41.67" lengthAdjust="spacingAndGlyphs">Stem loop I</text>
<path d="M280.8,438.4 L280.8,434.4 L464.8,434.4 L464.8,438.4" stroke="#444" stroke-width="0.9" fill="none" />
<text x="371.50" y="431.60" font-size="8.6" text-anchor="middle" font-weight="normal" font-style="normal" fill="#222" color="#222"  textLength="43.77" lengthAdjust="spacingAndGlyphs">Stem loop II</text>
<path d="M484.2,484.1 L484.2,480.1 L675.0,480.1 L675.0,484.1" stroke="#444" stroke-width="0.9" fill="none" />
<text x="579.20" y="477.40" font-size="8.6" text-anchor="middle" font-weight="normal" font-style="normal" fill="#222" color="#222"  textLength="46.37" lengthAdjust="spacingAndGlyphs">Stem loop III</text>
<defs><linearGradient id="gH" x1="0" y1="1" x2="0" y2="0"><stop offset="0.00" stop-color="#faebdd"/><stop offset="0.05" stop-color="#f8d9c3"/><stop offset="0.10" stop-color="#f7c6a6"/><stop offset="0.15" stop-color="#f6b18b"/><stop offset="0.20" stop-color="#f69c73"/><stop offset="0.25" stop-color="#f4865e"/><stop offset="0.30" stop-color="#f3714d"/><stop offset="0.35" stop-color="#ef5840"/><stop offset="0.40" stop-color="#e83f3f"/><stop offset="0.45" stop-color="#db2946"/><stop offset="0.50" stop-color="#ca1a50"/><stop offset="0.55" stop-color="#b71657"/><stop offset="0.60" stop-color="#a11a5b"/><stop offset="0.65" stop-color="#8b1d5b"/><stop offset="0.70" stop-color="#751f58"/><stop offset="0.75" stop-color="#601f52"/><stop offset="0.80" stop-color="#4c1d4b"/><stop offset="0.85" stop-color="#381a40"/><stop offset="0.90" stop-color="#251433"/><stop offset="0.95" stop-color="#130d25"/><stop offset="1.00" stop-color="#03051a"/></linearGradient></defs>
<rect x="648.90" y="370.00" width="8.50" height="80.80" fill="url(#gH)" />
<line x1="657.40" y1="450.80" x2="659.80" y2="450.80" stroke="#333" stroke-width="0.7" />
<text x="660.60" y="453.10" font-size="6.6" text-anchor="start" font-weight="normal" font-style="normal" fill="#333" color="#333" >0</text>
<line x1="657.40" y1="419.90" x2="659.80" y2="419.90" stroke="#333" stroke-width="0.7" />
<text x="660.60" y="422.20" font-size="6.6" text-anchor="start" font-weight="normal" font-style="normal" fill="#333" color="#333" >1</text>
<line x1="657.40" y1="389.00" x2="659.80" y2="389.00" stroke="#333" stroke-width="0.7" />
<text x="660.60" y="391.30" font-size="6.6" text-anchor="start" font-weight="normal" font-style="normal" fill="#333" color="#333" >2</text>
<text x="653.80" y="462.20" font-size="8.0" text-anchor="middle" font-weight="normal" font-style="normal" fill="#222" color="#222"  textLength="36.32" lengthAdjust="spacingAndGlyphs">Enrichment</text>
<text x="653.60" y="469.40" font-size="8.0" text-anchor="middle" font-weight="normal" font-style="normal" fill="#222" color="#222" >(fold)</text>
<line x1="523.60" y1="451.10" x2="532.70" y2="451.10" stroke="#3a3030" stroke-width="1.3" />
<line x1="523.60" y1="446.15" x2="532.70" y2="446.15" stroke="#3a3030" stroke-width="1.3" />
<line x1="523.60" y1="441.20" x2="532.70" y2="441.20" stroke="#3a3030" stroke-width="1.3" />
<line x1="523.60" y1="436.25" x2="532.70" y2="436.25" stroke="#3a3030" stroke-width="1.3" />
<line x1="523.60" y1="426.35" x2="532.70" y2="426.35" stroke="#3a3030" stroke-width="1.3" />
<line x1="523.60" y1="421.40" x2="532.70" y2="421.40" stroke="#3a3030" stroke-width="1.3" />
<line x1="523.60" y1="416.45" x2="532.70" y2="416.45" stroke="#3a3030" stroke-width="1.3" />
<line x1="523.60" y1="411.50" x2="532.70" y2="411.50" stroke="#3a3030" stroke-width="1.3" />
<line x1="523.60" y1="406.55" x2="532.70" y2="406.55" stroke="#3a3030" stroke-width="1.3" />
<line x1="523.60" y1="401.60" x2="532.70" y2="401.60" stroke="#3a3030" stroke-width="1.3" />
<line x1="523.60" y1="396.65" x2="532.70" y2="396.65" stroke="#3a3030" stroke-width="1.3" />
<line x1="523.60" y1="391.70" x2="532.70" y2="391.70" stroke="#3a3030" stroke-width="1.3" />
<line x1="523.60" y1="386.75" x2="532.70" y2="386.75" stroke="#3a3030" stroke-width="1.3" />
<line x1="545.80" y1="451.10" x2="554.70" y2="451.10" stroke="#3a3030" stroke-width="1.3" />
<line x1="545.80" y1="446.15" x2="554.70" y2="446.15" stroke="#3a3030" stroke-width="1.3" />
<line x1="545.80" y1="441.20" x2="554.70" y2="441.20" stroke="#3a3030" stroke-width="1.3" />
<line x1="545.80" y1="436.25" x2="554.70" y2="436.25" stroke="#3a3030" stroke-width="1.3" />
<line x1="545.80" y1="421.40" x2="554.70" y2="421.40" stroke="#3a3030" stroke-width="1.3" />
<line x1="545.80" y1="416.45" x2="554.70" y2="416.45" stroke="#3a3030" stroke-width="1.3" />
<line x1="545.80" y1="411.50" x2="554.70" y2="411.50" stroke="#3a3030" stroke-width="1.3" />
<line x1="545.80" y1="406.55" x2="554.70" y2="406.55" stroke="#3a3030" stroke-width="1.3" />
<line x1="545.80" y1="401.60" x2="554.70" y2="401.60" stroke="#3a3030" stroke-width="1.3" />
<line x1="570.00" y1="401.60" x2="579.20" y2="401.60" stroke="#3a3030" stroke-width="1.3" />
<line x1="570.00" y1="406.55" x2="579.20" y2="406.55" stroke="#3a3030" stroke-width="1.3" />
<line x1="570.00" y1="411.50" x2="579.20" y2="411.50" stroke="#3a3030" stroke-width="1.3" />
<line x1="570.00" y1="416.45" x2="579.20" y2="416.45" stroke="#3a3030" stroke-width="1.3" />
<line x1="570.00" y1="421.40" x2="579.20" y2="421.40" stroke="#3a3030" stroke-width="1.3" />
<line x1="570.00" y1="426.35" x2="579.20" y2="426.35" stroke="#3a3030" stroke-width="1.3" />
<line x1="570.00" y1="431.30" x2="579.20" y2="431.30" stroke="#3a3030" stroke-width="1.3" />
<line x1="570.00" y1="436.25" x2="579.20" y2="436.25" stroke="#3a3030" stroke-width="1.3" />
<line x1="570.00" y1="441.20" x2="579.20" y2="441.20" stroke="#3a3030" stroke-width="1.3" />
<line x1="570.00" y1="446.15" x2="579.20" y2="446.15" stroke="#3a3030" stroke-width="1.3" />
<line x1="570.00" y1="451.10" x2="579.20" y2="451.10" stroke="#3a3030" stroke-width="1.3" />
<circle cx="513.40" cy="451.10" r="2.25" fill="#de524b" stroke="#8a807c" stroke-width="0.45"/>
<circle cx="518.50" cy="451.10" r="2.25" fill="#e46e53" stroke="#8a807c" stroke-width="0.45"/>
<circle cx="523.60" cy="451.10" r="2.25" fill="#c22b53" stroke="#8a807c" stroke-width="0.45"/>
<circle cx="523.60" cy="446.15" r="2.25" fill="#e88060" stroke="#8a807c" stroke-width="0.45"/>
<circle cx="523.60" cy="441.20" r="2.25" fill="#d4404d" stroke="#8a807c" stroke-width="0.45"/>
<circle cx="523.60" cy="436.25" r="2.25" fill="#7b2659" stroke="#8a807c" stroke-width="0.45"/>
<circle cx="522.00" cy="431.30" r="2.25" fill="#e67859" stroke="#8a807c" stroke-width="0.45"/>
<circle cx="523.60" cy="426.35" r="2.25" fill="#c52d52" stroke="#8a807c" stroke-width="0.45"/>
<circle cx="523.60" cy="421.40" r="2.25" fill="#040618" stroke="#8a807c" stroke-width="0.45"/>
<circle cx="523.60" cy="416.45" r="2.25" fill="#c22b53" stroke="#8a807c" stroke-width="0.45"/>
<circle cx="523.60" cy="411.50" r="2.25" fill="#e77e5e" stroke="#8a807c" stroke-width="0.45"/>
<circle cx="523.60" cy="406.55" r="2.25" fill="#ea906e" stroke="#8a807c" stroke-width="0.45"/>
<circle cx="523.60" cy="401.60" r="2.25" fill="#f7e8db" stroke="#8a807c" stroke-width="0.45"/>
<circle cx="523.60" cy="396.65" r="2.25" fill="#f8ebdf" stroke="#8a807c" stroke-width="0.45"/>
<circle cx="523.60" cy="391.70" r="2.25" fill="#eeb291" stroke="#8a807c" stroke-width="0.45"/>
<circle cx="523.60" cy="386.75" r="2.25" fill="#f7e8db" stroke="#8a807c" stroke-width="0.45"/>
<circle cx="520.80" cy="382.00" r="2.25" fill="#f7e7d9" stroke="#8a807c" stroke-width="0.45"/>
<circle cx="519.90" cy="376.90" r="2.25" fill="#de524b" stroke="#8a807c" stroke-width="0.45"/>
<circle cx="522.40" cy="371.70" r="2.25" fill="#f7e5d7" stroke="#8a807c" stroke-width="0.45"/>
<circle cx="528.00" cy="369.30" r="2.25" fill="#f7e5d7" stroke="#8a807c" stroke-width="0.45"/>
<circle cx="533.90" cy="371.70" r="2.25" fill="#f6e4d5" stroke="#8a807c" stroke-width="0.45"/>
<circle cx="536.40" cy="376.90" r="2.25" fill="#f8e9dd" stroke="#8a807c" stroke-width="0.45"/>
<circle cx="535.40" cy="382.00" r="2.25" fill="#f8ebdf" stroke="#8a807c" stroke-width="0.45"/>
<circle cx="532.70" cy="386.75" r="2.25" fill="#f8e9dd" stroke="#8a807c" stroke-width="0.45"/>
<circle cx="532.70" cy="391.70" r="2.25" fill="#f6e1d1" stroke="#8a807c" stroke-width="0.45"/>
<circle cx="532.70" cy="396.65" r="2.25" fill="#f1c7ac" stroke="#8a807c" stroke-width="0.45"/>
<circle cx="532.70" cy="401.60" r="2.25" fill="#f5decd" stroke="#8a807c" stroke-width="0.45"/>
<circle cx="532.70" cy="406.55" r="2.25" fill="#f5decd" stroke="#8a807c" stroke-width="0.45"/>
<circle cx="532.70" cy="411.50" r="2.25" fill="#ea8f6c" stroke="#8a807c" stroke-width="0.45"/>
<circle cx="532.70" cy="416.45" r="2.25" fill="#e98b69" stroke="#8a807c" stroke-width="0.45"/>
<circle cx="532.70" cy="421.40" r="2.25" fill="#f6e4d5" stroke="#8a807c" stroke-width="0.45"/>
<circle cx="532.70" cy="426.35" r="2.25" fill="#f4dbc9" stroke="#8a807c" stroke-width="0.45"/>
<circle cx="534.10" cy="431.30" r="2.25" fill="#db4b4b" stroke="#8a807c" stroke-width="0.45"/>
<circle cx="532.70" cy="436.25" r="2.25" fill="#efbd9e" stroke="#8a807c" stroke-width="0.45"/>
<circle cx="532.70" cy="441.20" r="2.25" fill="#f4d7c3" stroke="#8a807c" stroke-width="0.45"/>
<circle cx="532.70" cy="446.15" r="2.25" fill="#f6e1d1" stroke="#8a807c" stroke-width="0.45"/>
<circle cx="532.70" cy="451.10" r="2.25" fill="#e98d6b" stroke="#8a807c" stroke-width="0.45"/>
<circle cx="539.10" cy="451.10" r="2.25" fill="#ea926f" stroke="#8a807c" stroke-width="0.45"/>
<circle cx="545.80" cy="451.10" r="2.25" fill="#e67457" stroke="#8a807c" stroke-width="0.45"/>
<circle cx="545.80" cy="446.15" r="2.25" fill="#f3d5c0" stroke="#8a807c" stroke-width="0.45"/>
<circle cx="545.80" cy="441.20" r="2.25" fill="#f7e7d9" stroke="#8a807c" stroke-width="0.45"/>
<circle cx="545.80" cy="436.25" r="2.25" fill="#f6e4d5" stroke="#8a807c" stroke-width="0.45"/>
<circle cx="544.20" cy="431.30" r="2.25" fill="#f6e1d1" stroke="#8a807c" stroke-width="0.45"/>
<circle cx="544.20" cy="426.35" r="2.25" fill="#efbd9e" stroke="#8a807c" stroke-width="0.45"/>
<circle cx="545.80" cy="421.40" r="2.25" fill="#edac8a" stroke="#8a807c" stroke-width="0.45"/>
<circle cx="545.80" cy="416.45" r="2.25" fill="#f6e1d1" stroke="#8a807c" stroke-width="0.45"/>
<circle cx="545.80" cy="411.50" r="2.25" fill="#f7e5d7" stroke="#8a807c" stroke-width="0.45"/>
<circle cx="545.80" cy="406.55" r="2.25" fill="#f1c7ac" stroke="#8a807c" stroke-width="0.45"/>
<circle cx="545.80" cy="401.60" r="2.25" fill="#f7e8db" stroke="#8a807c" stroke-width="0.45"/>
<circle cx="543.00" cy="396.80" r="2.25" fill="#f8e9dd" stroke="#8a807c" stroke-width="0.45"/>
<circle cx="542.30" cy="391.30" r="2.25" fill="#f8ebdf" stroke="#8a807c" stroke-width="0.45"/>
<circle cx="544.40" cy="386.30" r="2.25" fill="#f8e9dd" stroke="#8a807c" stroke-width="0.45"/>
<circle cx="550.20" cy="384.30" r="2.25" fill="#f6e1d1" stroke="#8a807c" stroke-width="0.45"/>
<circle cx="555.80" cy="386.30" r="2.25" fill="#f8e9dd" stroke="#8a807c" stroke-width="0.45"/>
<circle cx="558.40" cy="391.30" r="2.25" fill="#f7e7d9" stroke="#8a807c" stroke-width="0.45"/>
<circle cx="557.50" cy="396.80" r="2.25" fill="#f6e2d3" stroke="#8a807c" stroke-width="0.45"/>
<circle cx="554.70" cy="401.60" r="2.25" fill="#f4dbc9" stroke="#8a807c" stroke-width="0.45"/>
<circle cx="554.70" cy="406.55" r="2.25" fill="#f3d4be" stroke="#8a807c" stroke-width="0.45"/>
<circle cx="554.70" cy="411.50" r="2.25" fill="#f1cbb2" stroke="#8a807c" stroke-width="0.45"/>
<circle cx="554.70" cy="416.45" r="2.25" fill="#f3d2bc" stroke="#8a807c" stroke-width="0.45"/>
<circle cx="554.70" cy="421.40" r="2.25" fill="#f7e7d9" stroke="#8a807c" stroke-width="0.45"/>
<circle cx="556.60" cy="426.35" r="2.25" fill="#f6e1d1" stroke="#8a807c" stroke-width="0.45"/>
<circle cx="556.60" cy="431.30" r="2.25" fill="#f7e8db" stroke="#8a807c" stroke-width="0.45"/>
<circle cx="554.70" cy="436.25" r="2.25" fill="#f4d8c5" stroke="#8a807c" stroke-width="0.45"/>
<circle cx="554.70" cy="441.20" r="2.25" fill="#f5decd" stroke="#8a807c" stroke-width="0.45"/>
<circle cx="554.70" cy="446.15" r="2.25" fill="#f1c7ac" stroke="#8a807c" stroke-width="0.45"/>
<circle cx="554.70" cy="451.10" r="2.25" fill="#f7e5d7" stroke="#8a807c" stroke-width="0.45"/>
<circle cx="560.10" cy="451.10" r="2.25" fill="#eeaf8e" stroke="#8a807c" stroke-width="0.45"/>
<circle cx="564.80" cy="451.10" r="2.25" fill="#eb9774" stroke="#8a807c" stroke-width="0.45"/>
<circle cx="570.00" cy="451.10" r="2.25" fill="#f7e7d9" stroke="#8a807c" stroke-width="0.45"/>
<circle cx="570.00" cy="446.15" r="2.25" fill="#f8ebdf" stroke="#8a807c" stroke-width="0.45"/>
<circle cx="570.00" cy="441.20" r="2.25" fill="#f8ebdf" stroke="#8a807c" stroke-width="0.45"/>
<circle cx="570.00" cy="436.25" r="2.25" fill="#f8ebdf" stroke="#8a807c" stroke-width="0.45"/>
<circle cx="570.00" cy="431.30" r="2.25" fill="#f5dfcf" stroke="#8a807c" stroke-width="0.45"/>
<circle cx="570.00" cy="426.35" r="2.25" fill="#f8ebdf" stroke="#8a807c" stroke-width="0.45"/>
<circle cx="570.00" cy="421.40" r="2.25" fill="#f8ebdf" stroke="#8a807c" stroke-width="0.45"/>
<circle cx="570.00" cy="416.45" r="2.25" fill="#f8ebdf" stroke="#8a807c" stroke-width="0.45"/>
<circle cx="570.00" cy="411.50" r="2.25" fill="#f6e1d1" stroke="#8a807c" stroke-width="0.45"/>
<circle cx="570.00" cy="406.55" r="2.25" fill="#f6e2d3" stroke="#8a807c" stroke-width="0.45"/>
<circle cx="570.00" cy="401.60" r="2.25" fill="#f7e5d7" stroke="#8a807c" stroke-width="0.45"/>
<circle cx="567.30" cy="396.80" r="2.25" fill="#f7e7d9" stroke="#8a807c" stroke-width="0.45"/>
<circle cx="566.40" cy="391.30" r="2.25" fill="#f8ebdf" stroke="#8a807c" stroke-width="0.45"/>
<circle cx="568.80" cy="386.30" r="2.25" fill="#f8ebdf" stroke="#8a807c" stroke-width="0.45"/>
<circle cx="574.60" cy="384.30" r="2.25" fill="#f8ebdf" stroke="#8a807c" stroke-width="0.45"/>
<circle cx="580.50" cy="386.30" r="2.25" fill="#f8ebdf" stroke="#8a807c" stroke-width="0.45"/>
<circle cx="582.80" cy="391.30" r="2.25" fill="#f8ebdf" stroke="#8a807c" stroke-width="0.45"/>
<circle cx="581.90" cy="396.80" r="2.25" fill="#f8ebdf" stroke="#8a807c" stroke-width="0.45"/>
<circle cx="579.20" cy="401.60" r="2.25" fill="#f8ebdf" stroke="#8a807c" stroke-width="0.45"/>
<circle cx="579.20" cy="406.55" r="2.25" fill="#f8ebdf" stroke="#8a807c" stroke-width="0.45"/>
<circle cx="579.20" cy="411.50" r="2.25" fill="#f8ebdf" stroke="#8a807c" stroke-width="0.45"/>
<circle cx="583.60" cy="413.90" r="2.25" fill="#f7e7d9" stroke="#8a807c" stroke-width="0.45"/>
<circle cx="579.20" cy="416.45" r="2.25" fill="#f8ebdf" stroke="#8a807c" stroke-width="0.45"/>
<circle cx="579.20" cy="421.40" r="2.25" fill="#f8ebdf" stroke="#8a807c" stroke-width="0.45"/>
<circle cx="579.20" cy="426.35" r="2.25" fill="#f6e4d5" stroke="#8a807c" stroke-width="0.45"/>
<circle cx="579.20" cy="431.30" r="2.25" fill="#f5decd" stroke="#8a807c" stroke-width="0.45"/>
<circle cx="579.20" cy="436.25" r="2.25" fill="#f8ebdf" stroke="#8a807c" stroke-width="0.45"/>
<circle cx="579.20" cy="441.20" r="2.25" fill="#f8ebdf" stroke="#8a807c" stroke-width="0.45"/>
<circle cx="579.20" cy="446.15" r="2.25" fill="#f7e7d9" stroke="#8a807c" stroke-width="0.45"/>
<circle cx="579.20" cy="451.10" r="2.25" fill="#f7e8db" stroke="#8a807c" stroke-width="0.45"/>
<circle cx="584.00" cy="451.10" r="2.25" fill="#f8ebdf" stroke="#8a807c" stroke-width="0.45"/>
<circle cx="589.10" cy="451.10" r="2.35" fill="#6a6a6a" stroke="#555" stroke-width="0.3"/>
<circle cx="594.18" cy="451.10" r="2.35" fill="#6a6a6a" stroke="#555" stroke-width="0.3"/>
<circle cx="599.26" cy="451.10" r="2.35" fill="#6a6a6a" stroke="#555" stroke-width="0.3"/>
<circle cx="604.34" cy="451.10" r="2.35" fill="#6a6a6a" stroke="#555" stroke-width="0.3"/>
<circle cx="609.42" cy="451.10" r="2.35" fill="#6a6a6a" stroke="#555" stroke-width="0.3"/>
<circle cx="614.50" cy="451.10" r="2.35" fill="#6a6a6a" stroke="#555" stroke-width="0.3"/>
<text x="505.20" y="452.80" font-size="8.6" text-anchor="middle" font-weight="normal" font-style="normal" fill="#222" color="#222" >5'</text>
<text x="623.20" y="452.60" font-size="8.6" text-anchor="middle" font-weight="normal" font-style="normal" fill="#222" color="#222" >3'</text>
<text x="563.40" y="461.80" font-size="8.0" text-anchor="middle" font-weight="normal" font-style="normal" fill="#222" color="#222"  textLength="95.92" lengthAdjust="spacingAndGlyphs">RNA Primer Interacting Region</text>
<text x="528.00" y="363.20" font-size="7.4" text-anchor="middle" font-weight="normal" font-style="normal" fill="#333" color="#333" style="stroke-width:0">I</text>
<text x="550.20" y="377.60" font-size="7.4" text-anchor="middle" font-weight="normal" font-style="normal" fill="#333" color="#333" style="stroke-width:0">II</text>
<text x="574.80" y="377.60" font-size="7.4" text-anchor="middle" font-weight="normal" font-style="normal" fill="#333" color="#333" style="stroke-width:0">III</text>
</svg></body></html>
